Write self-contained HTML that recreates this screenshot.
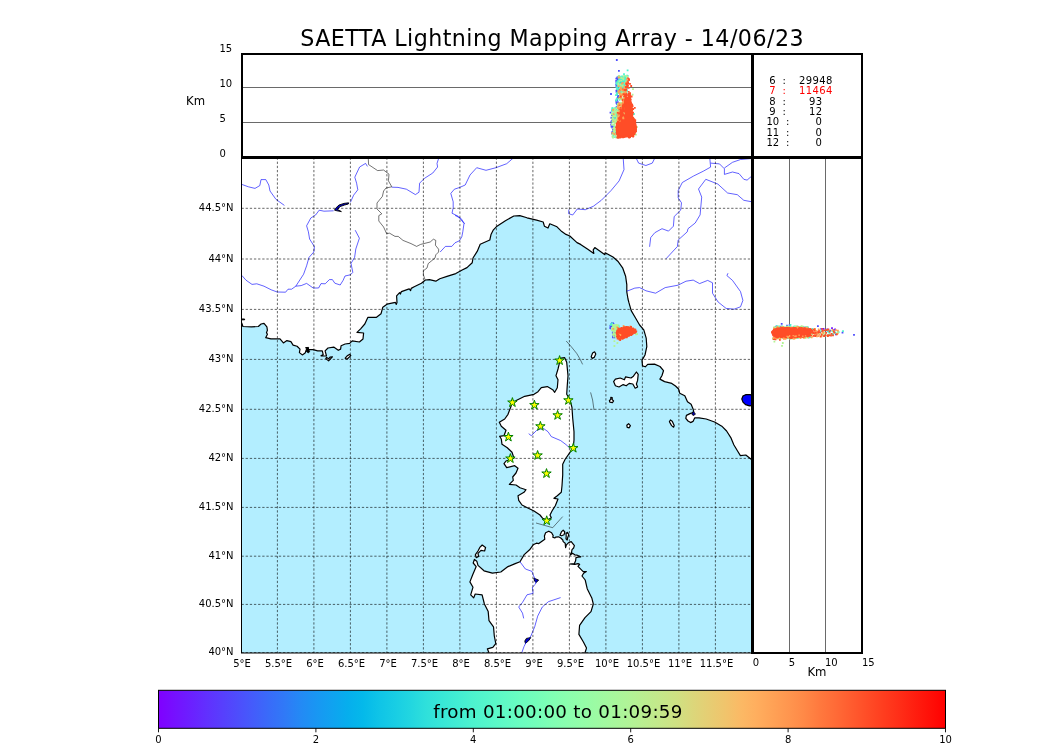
<!DOCTYPE html>
<html lang="en"><head><meta charset="utf-8"><title>SAETTA Lightning Mapping Array - 14/06/23</title><style>html,body{margin:0;padding:0;background:#fff}svg{display:block;will-change:transform}</style></head><body>
<svg width="1050" height="750" viewBox="0 0 1050 750">
<defs>
<clipPath id="mapclip"><rect x="241.5" y="157.5" width="511.0" height="495.5"/></clipPath>
<clipPath id="topclip"><rect x="243" y="55" width="508" height="101"/></clipPath>
<clipPath id="rightclip"><rect x="754" y="159" width="107" height="493"/></clipPath>
<linearGradient id="rainbow" x1="0" y1="0" x2="1" y2="0"><stop offset="0.0000" stop-color="#8000ff"/><stop offset="0.0200" stop-color="#7610ff"/><stop offset="0.0400" stop-color="#6c1fff"/><stop offset="0.0600" stop-color="#622ffe"/><stop offset="0.0800" stop-color="#583efd"/><stop offset="0.1000" stop-color="#4e4dfc"/><stop offset="0.1200" stop-color="#445cfb"/><stop offset="0.1400" stop-color="#396bf9"/><stop offset="0.1600" stop-color="#3079f7"/><stop offset="0.1800" stop-color="#2489f5"/><stop offset="0.2000" stop-color="#1996f3"/><stop offset="0.2200" stop-color="#10a2f0"/><stop offset="0.2400" stop-color="#06aeed"/><stop offset="0.2600" stop-color="#04b9ea"/><stop offset="0.2800" stop-color="#0fc4e7"/><stop offset="0.3000" stop-color="#18cde4"/><stop offset="0.3200" stop-color="#22d6e0"/><stop offset="0.3400" stop-color="#2fe0db"/><stop offset="0.3600" stop-color="#38e7d7"/><stop offset="0.3800" stop-color="#42edd3"/><stop offset="0.4000" stop-color="#4df3ce"/><stop offset="0.4200" stop-color="#56f7ca"/><stop offset="0.4400" stop-color="#60fac5"/><stop offset="0.4600" stop-color="#6afdc0"/><stop offset="0.4800" stop-color="#74feba"/><stop offset="0.5000" stop-color="#80ffb4"/><stop offset="0.5200" stop-color="#8bfeae"/><stop offset="0.5400" stop-color="#94fda8"/><stop offset="0.5600" stop-color="#9efaa2"/><stop offset="0.5800" stop-color="#a8f79c"/><stop offset="0.6000" stop-color="#b2f396"/><stop offset="0.6200" stop-color="#bced8f"/><stop offset="0.6400" stop-color="#c6e789"/><stop offset="0.6600" stop-color="#d0e082"/><stop offset="0.6800" stop-color="#dcd67a"/><stop offset="0.7000" stop-color="#e6cd73"/><stop offset="0.7200" stop-color="#f0c46c"/><stop offset="0.7400" stop-color="#fbb965"/><stop offset="0.7600" stop-color="#ffae5e"/><stop offset="0.7800" stop-color="#ffa256"/><stop offset="0.8000" stop-color="#ff964f"/><stop offset="0.8200" stop-color="#ff8947"/><stop offset="0.8400" stop-color="#ff793e"/><stop offset="0.8600" stop-color="#ff6b37"/><stop offset="0.8800" stop-color="#ff5c2f"/><stop offset="0.9000" stop-color="#ff4d27"/><stop offset="0.9200" stop-color="#ff3e1f"/><stop offset="0.9400" stop-color="#ff2f18"/><stop offset="0.9600" stop-color="#ff1f10"/><stop offset="0.9800" stop-color="#ff1008"/><stop offset="1.0000" stop-color="#ff0000"/></linearGradient>
</defs>
<rect x="0" y="0" width="1050" height="750" fill="#ffffff"/>
<g clip-path="url(#mapclip)">
<rect x="241.5" y="157.5" width="511.0" height="495.5" fill="#b3eeff"/>
<path d="M236.0 322.9 L241.7 322.9 L242.9 326.5 L251.4 326.9 L258.3 326.5 L261.1 324.0 L264.0 323.4 L266.9 326.9 L267.4 330.3 L266.5 332.6 L267.4 334.3 L265.7 337.7 L270.9 338.9 L280.0 338.9 L283.4 342.9 L286.9 340.6 L290.9 341.7 L293.1 345.1 L297.1 346.3 L300.0 349.1 L299.4 352.6 L302.3 354.9 L305.1 353.1 L306.3 349.7 L313.1 349.7 L317.7 350.9 L322.3 350.9 L323.2 354.6 L321.0 355.8 L326.5 356.0 L325.1 350.9 L328.0 348.0 L333.7 347.1 L338.3 350.3 L340.6 349.1 L341.1 345.7 L345.1 344.0 L349.7 343.4 L352.2 340.8 L359.4 342.0 L363.0 339.0 L363.6 333.0 L357.0 332.4 L360.6 328.8 L364.8 324.0 L367.8 317.4 L376.2 317.4 L381.0 313.8 L382.8 307.2 L387.0 304.2 L395.4 302.4 L396.3 304.4 L397.0 302.6 L396.6 295.8 L399.6 292.6 L400.4 294.0 L401.4 291.6 L409.2 288.9 L410.6 290.6 L411.2 288.4 L414.2 286.8 L421.4 283.2 L425.4 280.0 L429.4 279.6 L435.8 281.2 L439.8 278.8 L447.0 276.4 L455.8 273.6 L462.2 270.0 L467.0 267.6 L472.2 262.8 L473.0 258.0 L477.2 251.4 L480.2 244.2 L489.8 240.0 L491.0 234.6 L493.4 229.8 L497.0 226.2 L505.4 220.8 L513.8 216.0 L519.8 215.6 L527.0 217.8 L536.6 220.2 L543.2 222.0 L544.4 226.2 L548.0 228.0 L549.8 223.8 L557.0 226.8 L561.8 231.6 L566.0 234.4 L569.8 236.0 L577.0 242.6 L580.6 244.4 L587.8 249.2 L593.8 253.4 L593.2 249.8 L594.8 247.6 L604.6 254.6 L605.2 252.8 L613.0 257.0 L617.8 261.2 L622.6 267.8 L625.6 276.2 L626.8 284.6 L626.8 291.8 L628.0 299.0 L628.8 302.2 L631.2 310.6 L635.4 317.8 L639.6 325.0 L643.8 329.8 L646.2 338.2 L646.8 346.6 L645.0 355.0 L642.0 360.4 L642.5 365.9 L645.3 366.8 L647.7 364.4 L654.5 364.1 L660.0 366.5 L663.5 370.7 L662.0 375.5 L659.9 379.1 L664.6 381.6 L671.8 383.4 L675.5 386.0 L678.6 389.0 L679.7 393.2 L684.8 395.8 L687.5 401.8 L691.1 404.2 L693.2 409.3 L693.8 412.2 L690.0 413.6 L686.4 415.4 L685.8 418.4 L688.0 421.0 L690.6 422.6 L693.0 421.4 L694.8 417.8 L699.0 417.8 L706.2 419.0 L714.6 422.0 L721.8 426.2 L726.6 431.0 L730.8 437.6 L733.8 444.8 L737.4 450.8 L740.4 455.6 L745.8 455.0 L751.2 459.2 L760.0 466.0 L760.0 150.0 L236.0 150.0Z" fill="#ffffff" stroke="#000000" stroke-width="1.2" stroke-linejoin="round"/>
<path d="M559.3 358.3 L564.7 357.7 L566.7 362.3 L568.0 375.7 L567.3 385.0 L566.7 394.3 L570.0 399.7 L572.0 407.7 L572.7 418.3 L574.0 431.7 L574.0 440.0 L573.3 447.0 L570.0 452.3 L565.3 459.0 L562.7 464.3 L562.7 475.0 L562.0 485.7 L561.3 492.3 L557.3 495.7 L554.0 498.3 L558.0 499.0 L555.3 505.7 L552.0 511.0 L550.0 515.0 L551.3 517.7 L547.3 520.3 L542.7 518.3 L540.0 515.0 L534.0 511.0 L527.3 507.7 L522.0 505.0 L518.7 500.3 L518.0 495.7 L524.0 492.3 L526.0 489.7 L520.0 487.7 L516.0 485.0 L509.3 484.3 L513.3 480.3 L512.7 477.0 L516.0 473.0 L518.0 468.3 L514.7 465.7 L506.7 467.7 L504.0 463.7 L506.0 461.0 L514.0 458.3 L512.0 452.3 L507.3 447.7 L502.0 444.3 L501.3 439.0 L499.6 436.3 L504.0 435.7 L506.0 430.3 L501.3 426.3 L499.3 422.3 L504.7 419.0 L508.0 414.3 L510.0 409.0 L512.0 403.7 L516.7 400.3 L524.7 396.3 L534.0 394.3 L538.0 391.7 L541.3 387.7 L547.3 386.6 L552.7 389.7 L554.7 392.3 L557.3 387.7 L558.0 379.7 L556.0 375.7 L558.0 369.0 L559.3 363.7Z" fill="#ffffff" stroke="#000000" stroke-width="1.2" stroke-linejoin="round"/>
<path d="M489.0 660.0 L489.0 652.7 L487.4 648.9 L492.8 647.4 L495.8 643.6 L494.3 636.0 L493.5 626.8 L489.0 620.7 L488.2 611.6 L484.4 604.0 L482.1 594.8 L475.2 594.0 L473.7 597.9 L470.7 594.8 L473.0 587.2 L469.9 581.9 L472.6 575.0 L476.2 566.6 L473.2 563.0 L474.4 559.4 L476.8 561.2 L478.0 565.4 L484.0 570.8 L492.4 573.2 L500.8 572.0 L508.0 566.6 L515.2 563.6 L520.0 561.8 L524.2 554.6 L529.6 549.8 L533.2 544.8 L536.4 543.2 L538.8 543.6 L542.0 541.2 L544.8 539.2 L544.4 536.0 L545.6 532.8 L548.8 531.2 L551.6 532.8 L553.2 535.6 L552.8 537.2 L554.8 538.0 L555.6 537.2 L558.4 536.8 L560.8 538.0 L562.8 540.0 L563.2 541.6 L565.2 543.2 L565.6 547.6 L566.4 544.8 L568.4 542.8 L571.2 541.6 L572.8 543.6 L574.4 545.6 L573.6 548.0 L572.0 549.6 L571.6 552.0 L570.0 555.2 L572.4 553.2 L574.8 554.8 L577.2 555.2 L580.8 556.8 L578.0 557.2 L576.0 557.6 L575.6 560.8 L574.4 563.6 L569.6 564.0 L574.8 564.4 L578.0 563.6 L579.6 564.4 L578.0 566.4 L581.2 569.6 L583.2 571.6 L586.4 571.6 L583.6 573.2 L582.0 576.0 L585.2 580.0 L587.2 588.7 L591.8 597.9 L593.3 604.0 L591.0 611.6 L585.0 617.7 L579.6 625.3 L578.9 634.4 L583.4 642.0 L586.5 648.1 L585.0 652.7 L585.0 660.0Z" fill="#ffffff" stroke="#000000" stroke-width="1.2" stroke-linejoin="round"/>
<path d="M613.6 381.6 L615.4 379.2 L620.2 378.0 L624.4 379.8 L625.6 376.8 L631.0 378.0 L633.4 376.2 L636.4 372.0 L638.2 374.4 L637.6 380.4 L636.4 384.0 L637.6 387.0 L635.2 388.2 L632.8 384.0 L629.2 383.4 L626.2 385.8 L623.2 384.6 L619.0 387.0 L615.4 385.8Z" fill="#ffffff" stroke="#000000" stroke-width="1.2" stroke-linejoin="round"/>
<path d="M594.6 351.8 L595.8 354.0 L594.2 357.4 L592.2 358.4 L591.2 356.6 L592.6 353.0Z" fill="#ffffff" stroke="#000000" stroke-width="1.2" stroke-linejoin="round"/>
<path d="M610.8 397.4 L612.2 397.6 L612.2 399.6 L613.6 401.0 L612.4 402.6 L609.8 402.2 L609.4 400.6 L610.8 399.6Z" fill="#ffffff" stroke="#000000" stroke-width="1.2" stroke-linejoin="round"/>
<path d="M628.6 423.6 L630.4 425.6 L629.2 427.8 L627.2 427.4 L626.8 425.2Z" fill="#ffffff" stroke="#000000" stroke-width="1.2" stroke-linejoin="round"/>
<path d="M670.4 420.0 L672.2 421.2 L674.2 425.6 L673.6 427.2 L671.6 425.6 L669.4 421.8Z" fill="#ffffff" stroke="#000000" stroke-width="1.2" stroke-linejoin="round"/>
<path d="M482.2 545.0 L485.6 547.4 L484.6 551.0 L481.0 550.4 L478.0 553.4 L478.6 556.4 L476.2 557.6 L475.4 554.6 L478.0 551.0 L479.8 547.4Z" fill="#ffffff" stroke="#000000" stroke-width="1.2" stroke-linejoin="round"/>
<path d="M560.0 535.2 L561.6 531.6 L563.2 530.2 L564.8 532.0 L564.0 534.8 L561.6 535.8Z" fill="#ffffff" stroke="#000000" stroke-width="1.2" stroke-linejoin="round"/>
<path d="M566.0 533.2 L567.6 532.4 L568.8 534.8 L567.8 537.2 L567.2 540.0 L566.0 538.8 L566.2 536.0Z" fill="#ffffff" stroke="#000000" stroke-width="1.2" stroke-linejoin="round"/>
<path d="M325.8 358.6 L328.6 360.9 L331.2 358.2 L332.4 356.8 L330.0 357.2 L328.6 358.8 L326.6 357.4Z" fill="#ffffff" stroke="#000000" stroke-width="1.2" stroke-linejoin="round"/>
<path d="M345.2 358.2 L347.0 359.2 L350.8 355.6 L349.8 354.4 L347.2 355.8Z" fill="#ffffff" stroke="#000000" stroke-width="1.2" stroke-linejoin="round"/>
<path d="M305.6 347.6 L308.6 347.4 L308.4 349.4 L309.6 351.4 L308.6 352.8 L306.4 351.6 L307.0 349.6Z" fill="#000000" stroke="#000000" stroke-width="1"/>
<path d="M241.7 319.0 L244.6 319.0 L244.6 319.8 L241.7 319.8Z" fill="#000000" stroke="#000000" stroke-width="1"/>
<path d="M741.8 399.0 L743.0 396.0 L746.0 394.6 L750.0 394.6 L753.0 395.4 L753.0 405.4 L749.4 405.9 L745.6 404.6 L743.0 402.2Z" fill="#0000ff" stroke="#000000" stroke-width="1.2"/>
<path d="M692.2 413.2 L693.2 411.4 L695.4 414.0 L694.0 415.4 L692.2 414.8Z" fill="#0000c0" stroke="#000000" stroke-width="0.9"/>
<path d="M348.6 202.8 L344.0 203.4 L339.0 205.0 L335.4 208.4 L334.6 210.2 L337.0 210.8 L341.4 211.6 L337.6 209.6 L340.0 206.6 L344.6 205.0 L348.4 204.0Z" fill="#0000c0" stroke="#000000" stroke-width="0.9"/>
<path d="M533.8 578.2 L538.6 580.0 L536.4 582.4 L534.6 581.2Z" fill="#0000c0" stroke="#000000" stroke-width="0.9"/>
<path d="M530.8 637.6 L528.6 640.8 L525.4 643.4 L524.8 641.0 L526.4 638.4Z" fill="#0000c0" stroke="#000000" stroke-width="0.9"/>
<path d="M368.2 157.0 L368.6 164.6 L377.6 170.6 L383.6 170.0 L389.0 174.2 L388.4 180.8 L391.8 186.8 L386.0 188.0 L383.6 191.0 L382.4 196.4 L377.0 203.0 L377.0 209.0 L381.8 213.8 L378.8 215.6 L378.8 221.0 L383.6 227.0 L386.6 233.6 L389.6 233.2 L395.0 236.4 L398.2 236.4 L403.0 240.4 L411.0 243.6 L416.6 246.4 L420.6 244.4 L430.2 242.0 L433.4 239.2 L435.8 240.4 L435.4 245.2 L438.6 249.2 L438.6 252.0 L435.8 254.8 L435.0 258.0 L428.2 263.6 L427.0 268.0 L423.4 270.8 L423.4 274.8 L425.0 279.6" fill="none" stroke="#000000" stroke-width="0.55"/>
<path d="M566.2 341.0 L571.0 346.4 L576.7 353.4 L580.0 359.0 L582.6 364.4" fill="none" stroke="#000000" stroke-width="0.5"/>
<path d="M590.6 392.4 L592.6 400.0 L594.0 410.0" fill="none" stroke="#000000" stroke-width="0.5"/>
<path d="M536.0 523.0 L552.7 527.7 L562.7 516.6" fill="none" stroke="#000000" stroke-width="0.5"/>
<path d="M241.8 184.4 L248.4 186.8 L255.0 188.4 L259.8 185.6 L261.0 179.6 L265.8 179.6 L268.8 185.0 L270.0 191.0 L276.0 199.4 L284.4 205.4" fill="none" stroke="#0000ff" stroke-width="0.62" stroke-linejoin="round"/>
<path d="M367.4 166.4 L365.6 163.4 L359.6 167.0 L354.8 177.2 L356.6 183.2 L357.8 189.8 L353.6 195.2 L350.4 202.4" fill="none" stroke="#0000ff" stroke-width="0.62" stroke-linejoin="round"/>
<path d="M333.6 210.8 L324.0 211.2 L319.2 210.2 L315.6 215.0 L310.8 218.0 L306.6 225.8 L308.4 231.8 L309.6 239.0 L314.4 246.6 L313.8 252.0 L309.0 257.4 L306.6 265.8 L303.6 274.2 L295.8 286.2 L291.6 289.2 L288.0 289.2 L285.6 292.2 L277.2 292.0 L271.2 289.8 L264.0 286.2 L256.8 283.8 L252.0 284.4 L246.0 280.2 L241.8 275.4" fill="none" stroke="#0000ff" stroke-width="0.62" stroke-linejoin="round"/>
<path d="M295.8 286.2 L301.2 285.6 L306.6 283.4 L313.2 288.0 L318.6 288.0 L321.0 283.6 L325.2 283.8 L329.4 279.6 L332.4 279.6 L334.8 283.2 L340.2 285.0 L343.2 280.2 L345.0 276.0 L350.4 274.8 L352.8 272.4 L351.0 263.4 L354.6 257.4 L355.8 249.0 L359.4 238.2 L355.2 230.2" fill="none" stroke="#0000ff" stroke-width="0.62" stroke-linejoin="round"/>
<path d="M391.8 187.2 L398.0 187.4 L406.4 189.2 L415.4 194.6 L419.0 192.2 L419.6 183.2 L424.4 178.4 L432.8 173.0 L437.6 167.0 L437.0 163.4 L438.8 158.0" fill="none" stroke="#0000ff" stroke-width="0.62" stroke-linejoin="round"/>
<path d="M513.3 158.0 L506.7 163.7 L496.0 167.7 L486.0 170.3 L476.7 167.7 L470.0 175.0 L465.2 185.0 L459.8 187.4 L454.4 189.2 L450.8 193.4 L453.2 201.8 L453.2 207.8 L452.0 213.2 L458.0 216.2 L464.0 223.4 L462.8 231.8 L461.8 236.8 L459.4 240.8 L455.0 242.8 L451.8 246.4 L445.4 246.4 L440.2 252.0" fill="none" stroke="#0000ff" stroke-width="0.62" stroke-linejoin="round"/>
<path d="M455.0 215.4 L461.0 218.4 L464.6 223.8" fill="none" stroke="#0000ff" stroke-width="0.62" stroke-linejoin="round"/>
<path d="M568.8 209.6 L568.7 213.7 L572.7 215.0 L577.3 209.0 L585.3 209.7 L593.3 206.3 L601.3 200.3 L611.0 190.6 L619.1 180.9 L624.0 169.6 L623.2 158.0" fill="none" stroke="#0000ff" stroke-width="0.62" stroke-linejoin="round"/>
<path d="M636.1 158.0 L638.6 163.1 L645.9 165.5 L652.3 163.1 L654.8 158.0" fill="none" stroke="#0000ff" stroke-width="0.62" stroke-linejoin="round"/>
<path d="M649.6 246.8 L650.7 237.6 L654.8 232.7 L662.0 228.7 L668.5 231.1 L673.4 226.2 L674.2 216.5 L680.7 210.1 L681.5 202.8 L678.2 197.9 L678.2 190.6 L682.3 182.5 L693.6 176.0 L703.3 171.2 L710.6 167.1 L709.8 158.0" fill="none" stroke="#0000ff" stroke-width="0.62" stroke-linejoin="round"/>
<path d="M666.0 258.8 L677.4 246.5 L678.2 240.0 L687.2 231.9 L688.0 228.7 L695.2 223.0 L700.1 214.9 L701.7 197.1 L698.5 189.0 L705.8 179.3 L717.9 184.1 L727.6 193.0 L737.3 194.7 L743.8 200.3 L753.0 202.0" fill="none" stroke="#0000ff" stroke-width="0.62" stroke-linejoin="round"/>
<path d="M710.6 163.1 L719.5 163.9 L724.4 168.8 L724.4 174.4 L732.5 172.0 L739.0 173.6 L743.8 179.3 L747.1 180.1 L753.0 175.0" fill="none" stroke="#0000ff" stroke-width="0.62" stroke-linejoin="round"/>
<path d="M724.4 168.0 L732.5 162.3 L740.6 159.5 L753.0 158.4" fill="none" stroke="#0000ff" stroke-width="0.62" stroke-linejoin="round"/>
<path d="M626.8 291.2 L630.0 290.0 L634.8 288.1 L639.6 287.6 L646.0 290.8 L655.6 293.2 L665.2 287.6 L678.0 285.2 L686.0 281.2 L693.2 280.1 L699.6 283.6 L707.7 280.4 L712.5 282.8 L712.5 293.2 L718.1 302.0 L726.1 308.4 L734.1 309.2 L740.5 306.8 L742.9 300.4 L740.5 291.6 L732.5 280.4 L726.9 275.6 L728.0 273.2" fill="none" stroke="#0000ff" stroke-width="0.62" stroke-linejoin="round"/>
<path d="M528.7 433.7 L531.3 435.7 L536.7 430.3 L543.3 428.3 L548.0 431.7 L551.3 436.6 L560.7 440.6 L566.0 444.6 L570.0 448.3" fill="none" stroke="#0000ff" stroke-width="0.62" stroke-linejoin="round"/>
<path d="M520.0 561.8 L525.4 569.0 L532.0 571.4 L533.2 575.0 L535.8 580.4 L535.6 584.0 L532.4 587.2 L533.1 593.3 L527.0 594.8 L522.5 602.4 L518.7 607.0 L522.5 613.1 L523.7 618.4" fill="none" stroke="#0000ff" stroke-width="0.62" stroke-linejoin="round"/>
<path d="M560.6 597.6 L548.4 601.7 L542.3 607.0 L537.7 616.1 L534.7 626.8 L530.9 636.0 L527.0 640.5 L524.0 646.6 L521.7 653.0" fill="none" stroke="#0000ff" stroke-width="0.62" stroke-linejoin="round"/>
<path d="M277.4 157.5 V653.0 M313.9 157.5 V653.0 M350.4 157.5 V653.0 M386.9 157.5 V653.0 M423.4 157.5 V653.0 M459.9 157.5 V653.0 M496.4 157.5 V653.0 M532.9 157.5 V653.0 M569.4 157.5 V653.0 M605.9 157.5 V653.0 M642.4 157.5 V653.0 M678.9 157.5 V653.0 M715.4 157.5 V653.0 M241.5 208.3 H752.5 M241.5 259.0 H752.5 M241.5 309.4 H752.5 M241.5 359.4 H752.5 M241.5 409.3 H752.5 M241.5 458.4 H752.5 M241.5 507.4 H752.5 M241.5 556.2 H752.5 M241.5 604.4 H752.5 M241.5 652.6 H752.5" fill="none" stroke="#000000" stroke-width="0.75" stroke-opacity="0.8" stroke-dasharray="2.3 1.85"/>
</g>
<g clip-path="url(#mapclip)">
<path d="M610.9 323.6h1.8v1.8h-1.8zM613.5 335.7h1.8v1.8h-1.8zM612.2 336.5h1.8v1.8h-1.8zM613.3 333.1h1.8v1.8h-1.8zM610.1 326.1h1.8v1.8h-1.8zM610.9 322.8h1.8v1.8h-1.8zM609.8 326.7h1.8v1.8h-1.8zM613.1 334.1h1.8v1.8h-1.8zM613.1 335.7h1.8v1.8h-1.8zM611.9 331.6h1.8v1.8h-1.8zM612.6 333.9h1.8v1.8h-1.8zM613.7 332.1h1.8v1.8h-1.8zM611.7 325.5h1.8v1.8h-1.8zM611.0 322.7h1.8v1.8h-1.8zM610.9 325.3h1.8v1.8h-1.8zM610.5 324.9h1.8v1.8h-1.8zM609.4 327.1h1.8v1.8h-1.8zM611.0 322.6h1.8v1.8h-1.8zM612.7 333.5h1.8v1.8h-1.8zM610.4 327.8h1.8v1.8h-1.8zM613.2 335.2h1.8v1.8h-1.8zM612.4 334.4h1.8v1.8h-1.8zM612.2 332.0h1.8v1.8h-1.8zM609.7 326.0h1.8v1.8h-1.8zM611.3 325.0h1.8v1.8h-1.8zM610.9 323.6h1.8v1.8h-1.8zM612.9 336.3h1.8v1.8h-1.8zM612.0 336.2h1.8v1.8h-1.8zM610.5 323.3h1.8v1.8h-1.8zM613.7 332.1h1.8v1.8h-1.8zM610.8 326.2h1.8v1.8h-1.8zM612.9 334.7h1.8v1.8h-1.8zM613.5 335.1h1.8v1.8h-1.8zM612.6 334.7h1.8v1.8h-1.8zM612.0 322.3h1.8v1.8h-1.8zM610.0 324.2h1.8v1.8h-1.8zM612.1 323.8h1.8v1.8h-1.8zM609.8 325.7h1.8v1.8h-1.8zM609.5 324.9h1.8v1.8h-1.8zM613.8 335.5h1.8v1.8h-1.8zM611.6 325.2h1.8v1.8h-1.8zM613.5 335.2h1.8v1.8h-1.8zM612.8 333.3h1.8v1.8h-1.8zM611.6 324.0h1.8v1.8h-1.8zM612.7 333.4h1.8v1.8h-1.8zM612.5 322.9h1.8v1.8h-1.8zM611.4 323.3h1.8v1.8h-1.8zM613.6 336.5h1.8v1.8h-1.8zM612.4 335.8h1.8v1.8h-1.8zM610.2 324.7h1.8v1.8h-1.8zM611.2 324.3h1.8v1.8h-1.8zM613.0 333.3h1.8v1.8h-1.8zM612.8 334.4h1.8v1.8h-1.8zM610.5 327.7h1.8v1.8h-1.8zM611.3 322.3h1.8v1.8h-1.8zM610.2 325.7h1.8v1.8h-1.8z" fill="#4e4dfc"/>
<path d="M613.7 329.6h1.8v1.8h-1.8zM617.7 324.7h1.8v1.8h-1.8zM611.4 328.9h1.8v1.8h-1.8zM616.0 329.9h1.8v1.8h-1.8zM615.4 334.6h1.8v1.8h-1.8zM615.5 326.9h1.8v1.8h-1.8zM614.7 332.2h1.8v1.8h-1.8zM614.9 328.7h1.8v1.8h-1.8zM615.2 328.4h1.8v1.8h-1.8zM617.4 334.4h1.8v1.8h-1.8zM614.7 332.2h1.8v1.8h-1.8zM615.0 325.1h1.8v1.8h-1.8zM617.0 324.9h1.8v1.8h-1.8zM615.9 332.4h1.8v1.8h-1.8zM611.2 322.4h1.8v1.8h-1.8zM610.3 323.4h1.8v1.8h-1.8zM609.8 324.0h1.8v1.8h-1.8zM615.1 331.8h1.8v1.8h-1.8z" fill="#4df3ce"/>
<path d="M616.2 333.9h1.8v1.8h-1.8zM613.8 325.0h1.8v1.8h-1.8zM616.1 327.6h1.8v1.8h-1.8zM612.3 329.2h1.8v1.8h-1.8zM612.7 329.6h1.8v1.8h-1.8zM611.5 327.4h1.8v1.8h-1.8zM611.3 327.3h1.8v1.8h-1.8zM615.2 336.5h1.8v1.8h-1.8z" fill="#b2f396"/>
<path d="M613.4 326.6h1.8v1.8h-1.8zM611.0 324.0h1.8v1.8h-1.8zM614.1 329.4h1.8v1.8h-1.8zM617.9 326.3h1.8v1.8h-1.8zM616.1 329.3h1.8v1.8h-1.8zM616.2 331.4h1.8v1.8h-1.8zM615.0 327.2h1.8v1.8h-1.8zM615.0 328.0h1.8v1.8h-1.8zM611.2 327.4h1.8v1.8h-1.8zM614.9 333.5h1.8v1.8h-1.8z" fill="#4df3ce"/>
<path d="M611.3 327.6h1.8v1.8h-1.8zM617.0 327.8h1.8v1.8h-1.8zM612.8 328.0h1.8v1.8h-1.8zM616.9 333.4h1.8v1.8h-1.8zM617.9 329.5h1.8v1.8h-1.8zM616.3 332.3h1.8v1.8h-1.8zM617.1 334.1h1.8v1.8h-1.8zM613.9 325.7h1.8v1.8h-1.8zM612.6 325.9h1.8v1.8h-1.8zM617.2 333.4h1.8v1.8h-1.8zM614.9 325.7h1.8v1.8h-1.8zM611.9 328.6h1.8v1.8h-1.8zM614.9 334.8h1.8v1.8h-1.8zM616.2 332.5h1.8v1.8h-1.8zM616.5 329.6h1.8v1.8h-1.8zM616.9 327.3h1.8v1.8h-1.8zM617.1 334.9h1.8v1.8h-1.8zM611.6 327.2h1.8v1.8h-1.8zM611.9 327.9h1.8v1.8h-1.8zM618.8 337.2h1.8v1.8h-1.8zM611.3 328.8h1.8v1.8h-1.8zM612.7 324.9h1.8v1.8h-1.8zM616.2 333.1h1.8v1.8h-1.8zM615.4 332.7h1.8v1.8h-1.8zM612.6 324.1h1.8v1.8h-1.8zM614.7 325.3h1.8v1.8h-1.8zM611.2 327.2h1.8v1.8h-1.8zM611.9 326.8h1.8v1.8h-1.8zM617.6 329.0h1.8v1.8h-1.8zM614.7 332.7h1.8v1.8h-1.8zM612.8 324.9h1.8v1.8h-1.8zM617.8 334.0h1.8v1.8h-1.8zM611.2 329.3h1.8v1.8h-1.8zM612.3 326.2h1.8v1.8h-1.8zM616.9 324.4h1.8v1.8h-1.8zM611.9 329.1h1.8v1.8h-1.8zM617.6 329.3h1.8v1.8h-1.8zM615.9 334.2h1.8v1.8h-1.8zM614.9 334.4h1.8v1.8h-1.8zM617.5 335.0h1.8v1.8h-1.8zM616.8 328.6h1.8v1.8h-1.8zM615.2 326.4h1.8v1.8h-1.8zM615.9 331.5h1.8v1.8h-1.8zM615.1 333.9h1.8v1.8h-1.8zM616.8 336.1h1.8v1.8h-1.8zM617.5 333.9h1.8v1.8h-1.8zM613.6 329.7h1.8v1.8h-1.8zM611.9 329.8h1.8v1.8h-1.8zM614.7 334.5h1.8v1.8h-1.8zM612.1 326.1h1.8v1.8h-1.8zM612.0 333.7h1.8v1.8h-1.8zM612.0 326.7h1.8v1.8h-1.8zM615.0 328.2h1.8v1.8h-1.8zM617.0 335.0h1.8v1.8h-1.8zM612.7 331.9h1.8v1.8h-1.8zM615.2 324.1h1.8v1.8h-1.8zM613.5 340.3h1.8v1.8h-1.8zM616.5 342.1h1.8v1.8h-1.8zM613.5 345.1h1.8v1.8h-1.8zM635.1 333.5h1.8v1.8h-1.8zM636.1 333.1h1.8v1.8h-1.8zM617.3 328.8h1.8v1.8h-1.8zM617.6 328.5h1.8v1.8h-1.8zM617.0 326.0h1.8v1.8h-1.8zM616.6 332.8h1.8v1.8h-1.8zM613.1 333.3h1.8v1.8h-1.8zM615.8 327.6h1.8v1.8h-1.8zM612.9 335.6h1.8v1.8h-1.8z" fill="#b2f396"/>
<path d="M619.1 334.2h1.8v1.8h-1.8zM618.6 333.1h1.8v1.8h-1.8zM617.0 337.2h1.8v1.8h-1.8z" fill="#ffa256"/>
<path d="M615.7 324.9h1.8v1.8h-1.8zM619.3 335.3h1.8v1.8h-1.8zM613.9 330.4h1.8v1.8h-1.8zM614.2 325.9h1.8v1.8h-1.8zM616.1 328.1h1.8v1.8h-1.8zM616.3 324.5h1.8v1.8h-1.8zM616.3 329.2h1.8v1.8h-1.8zM617.0 334.1h1.8v1.8h-1.8zM611.6 328.1h1.8v1.8h-1.8zM613.9 327.7h1.8v1.8h-1.8zM612.2 328.7h1.8v1.8h-1.8zM615.0 324.6h1.8v1.8h-1.8zM616.4 336.1h1.8v1.8h-1.8zM614.5 333.6h1.8v1.8h-1.8zM614.9 327.2h1.8v1.8h-1.8zM614.3 327.0h1.8v1.8h-1.8zM615.9 327.9h1.8v1.8h-1.8zM616.0 327.6h1.8v1.8h-1.8zM614.0 326.0h1.8v1.8h-1.8zM612.5 329.3h1.8v1.8h-1.8zM611.5 327.2h1.8v1.8h-1.8zM616.7 334.3h1.8v1.8h-1.8zM616.0 331.8h1.8v1.8h-1.8zM614.4 330.2h1.8v1.8h-1.8zM616.5 327.5h1.8v1.8h-1.8zM617.8 332.0h1.8v1.8h-1.8zM611.5 328.4h1.8v1.8h-1.8zM614.9 330.2h1.8v1.8h-1.8zM617.1 332.5h1.8v1.8h-1.8zM616.8 327.2h1.8v1.8h-1.8zM616.4 334.5h1.8v1.8h-1.8zM615.0 329.4h1.8v1.8h-1.8zM614.4 329.8h1.8v1.8h-1.8zM614.7 332.7h1.8v1.8h-1.8zM617.7 330.2h1.8v1.8h-1.8zM612.5 324.5h1.8v1.8h-1.8zM616.7 334.7h1.8v1.8h-1.8zM617.1 326.6h1.8v1.8h-1.8zM614.8 325.7h1.8v1.8h-1.8zM615.9 330.4h1.8v1.8h-1.8zM616.3 328.8h1.8v1.8h-1.8zM618.7 335.7h1.8v1.8h-1.8zM613.2 325.1h1.8v1.8h-1.8zM612.3 324.3h1.8v1.8h-1.8zM615.2 335.7h1.8v1.8h-1.8zM613.3 324.6h1.8v1.8h-1.8zM615.8 325.6h1.8v1.8h-1.8zM616.6 329.6h1.8v1.8h-1.8zM614.0 326.0h1.8v1.8h-1.8zM617.2 335.3h1.8v1.8h-1.8z" fill="#b2f396"/>
<path d="M616.3 326.5h1.8v1.8h-1.8zM612.4 327.9h1.8v1.8h-1.8zM618.4 332.0h1.8v1.8h-1.8zM616.2 333.3h1.8v1.8h-1.8zM618.9 337.1h1.8v1.8h-1.8zM617.9 332.4h1.8v1.8h-1.8zM622.7 325.1h1.8v1.8h-1.8zM629.5 325.5h1.8v1.8h-1.8zM616.8 333.6h1.8v1.8h-1.8zM617.1 334.5h1.8v1.8h-1.8zM618.3 335.3h1.8v1.8h-1.8zM617.7 335.5h1.8v1.8h-1.8zM617.7 335.7h1.8v1.8h-1.8zM616.6 333.7h1.8v1.8h-1.8zM618.6 334.3h1.8v1.8h-1.8zM619.0 336.1h1.8v1.8h-1.8z" fill="#ffa256"/>
<path d="M630.6 333.4h1.8v1.8h-1.8zM619.5 328.2h1.8v1.8h-1.8zM634.8 331.2h1.8v1.8h-1.8zM617.3 335.6h1.8v1.8h-1.8zM616.7 337.8h1.8v1.8h-1.8zM626.7 326.4h1.8v1.8h-1.8zM630.1 326.1h1.8v1.8h-1.8zM629.4 327.5h1.8v1.8h-1.8zM625.7 336.4h1.8v1.8h-1.8zM626.1 335.9h1.8v1.8h-1.8zM617.8 336.3h1.8v1.8h-1.8zM631.2 332.8h1.8v1.8h-1.8zM627.4 326.8h1.8v1.8h-1.8zM622.8 335.9h1.8v1.8h-1.8zM627.7 326.2h1.8v1.8h-1.8zM633.7 331.9h1.8v1.8h-1.8z" fill="#ff4d27"/>
<path d="M616.2 331.0 L619.8 328.0 L624.6 326.8 L630.6 327.4 L636.0 329.9 L636.2 332.2 L633.0 334.2 L629.4 336.4 L624.6 337.8 L621.0 339.0 L619.8 340.6 L618.0 338.2 L616.4 334.6 Z" fill="#ff4d27"/>
<path d="M616.2 331.1h1.8v1.8h-1.8zM615.0 329.3h1.8v1.8h-1.8z" fill="#b2f396"/>
<path d="M617.5 333.3h1.8v1.8h-1.8zM617.8 337.3h1.8v1.8h-1.8zM617.0 334.4h1.8v1.8h-1.8zM619.4 334.2h1.8v1.8h-1.8zM617.2 329.0h1.8v1.8h-1.8zM619.3 333.9h1.8v1.8h-1.8z" fill="#ffa256"/>
<path d="M616.3 329.7h1.8v1.8h-1.8zM620.2 327.7h1.8v1.8h-1.8zM635.4 330.4h1.8v1.8h-1.8zM619.5 327.7h1.8v1.8h-1.8zM633.8 328.6h1.8v1.8h-1.8zM630.0 326.9h1.8v1.8h-1.8zM620.7 327.0h1.8v1.8h-1.8zM631.6 333.3h1.8v1.8h-1.8zM634.1 331.8h1.8v1.8h-1.8zM615.6 331.9h1.8v1.8h-1.8zM617.3 336.5h1.8v1.8h-1.8zM620.0 337.7h1.8v1.8h-1.8zM629.8 327.8h1.8v1.8h-1.8zM634.2 329.1h1.8v1.8h-1.8zM616.3 332.6h1.8v1.8h-1.8zM616.5 331.9h1.8v1.8h-1.8zM625.6 326.4h1.8v1.8h-1.8zM634.5 328.7h1.8v1.8h-1.8zM632.9 330.3h1.8v1.8h-1.8zM626.0 328.1h1.8v1.8h-1.8zM617.4 327.4h1.8v1.8h-1.8zM622.8 337.1h1.8v1.8h-1.8zM627.1 327.2h1.8v1.8h-1.8zM617.6 329.3h1.8v1.8h-1.8zM622.3 336.0h1.8v1.8h-1.8zM625.8 326.1h1.8v1.8h-1.8zM617.1 336.9h1.8v1.8h-1.8zM617.6 334.4h1.8v1.8h-1.8zM616.9 331.5h1.8v1.8h-1.8zM619.3 339.1h1.8v1.8h-1.8zM628.2 334.5h1.8v1.8h-1.8zM619.2 338.8h1.8v1.8h-1.8zM625.9 326.9h1.8v1.8h-1.8zM632.0 328.8h1.8v1.8h-1.8zM625.6 334.8h1.8v1.8h-1.8zM621.6 336.6h1.8v1.8h-1.8zM619.2 337.4h1.8v1.8h-1.8zM627.6 334.7h1.8v1.8h-1.8zM623.7 336.6h1.8v1.8h-1.8zM629.8 327.4h1.8v1.8h-1.8zM621.7 337.9h1.8v1.8h-1.8zM630.3 333.7h1.8v1.8h-1.8zM616.0 335.8h1.8v1.8h-1.8zM628.9 327.0h1.8v1.8h-1.8zM616.0 331.2h1.8v1.8h-1.8zM622.9 326.5h1.8v1.8h-1.8zM625.7 327.7h1.8v1.8h-1.8zM630.1 326.1h1.8v1.8h-1.8zM626.7 326.6h1.8v1.8h-1.8zM616.8 329.6h1.8v1.8h-1.8zM629.4 327.0h1.8v1.8h-1.8zM630.3 332.5h1.8v1.8h-1.8zM634.1 330.6h1.8v1.8h-1.8zM619.9 328.0h1.8v1.8h-1.8zM617.0 335.3h1.8v1.8h-1.8zM624.1 327.0h1.8v1.8h-1.8zM632.4 328.0h1.8v1.8h-1.8zM617.2 333.9h1.8v1.8h-1.8zM630.4 334.2h1.8v1.8h-1.8zM624.3 326.3h1.8v1.8h-1.8zM616.5 333.6h1.8v1.8h-1.8zM624.5 327.0h1.8v1.8h-1.8zM631.9 327.8h1.8v1.8h-1.8zM616.6 335.6h1.8v1.8h-1.8zM616.8 329.6h1.8v1.8h-1.8zM618.1 328.9h1.8v1.8h-1.8zM618.3 338.5h1.8v1.8h-1.8zM631.3 332.3h1.8v1.8h-1.8zM624.3 335.9h1.8v1.8h-1.8zM621.6 336.6h1.8v1.8h-1.8zM618.1 335.2h1.8v1.8h-1.8zM632.1 327.5h1.8v1.8h-1.8zM617.2 333.4h1.8v1.8h-1.8zM617.9 334.8h1.8v1.8h-1.8z" fill="#ff4d27"/>
</g>
<path d="M559.6 355.6 L560.7 359.0 L564.3 359.0 L561.4 361.1 L562.5 364.5 L559.6 362.4 L556.7 364.5 L557.8 361.1 L554.9 359.0 L558.5 359.0Z" fill="#ffff00" stroke="#008000" stroke-width="1.0" stroke-linejoin="miter"/>
<path d="M512.4 397.6 L513.5 401.0 L517.1 401.0 L514.2 403.1 L515.3 406.5 L512.4 404.4 L509.5 406.5 L510.6 403.1 L507.7 401.0 L511.3 401.0Z" fill="#ffff00" stroke="#008000" stroke-width="1.0" stroke-linejoin="miter"/>
<path d="M534.4 400.2 L535.5 403.6 L539.1 403.6 L536.2 405.7 L537.3 409.1 L534.4 407.0 L531.5 409.1 L532.6 405.7 L529.7 403.6 L533.3 403.6Z" fill="#ffff00" stroke="#008000" stroke-width="1.0" stroke-linejoin="miter"/>
<path d="M568.4 395.4 L569.5 398.8 L573.1 398.8 L570.2 400.9 L571.3 404.3 L568.4 402.2 L565.5 404.3 L566.6 400.9 L563.7 398.8 L567.3 398.8Z" fill="#ffff00" stroke="#008000" stroke-width="1.0" stroke-linejoin="miter"/>
<path d="M557.6 410.4 L558.7 413.8 L562.3 413.8 L559.4 415.9 L560.5 419.3 L557.6 417.2 L554.7 419.3 L555.8 415.9 L552.9 413.8 L556.5 413.8Z" fill="#ffff00" stroke="#008000" stroke-width="1.0" stroke-linejoin="miter"/>
<path d="M540.4 421.4 L541.5 424.8 L545.1 424.8 L542.2 426.9 L543.3 430.3 L540.4 428.2 L537.5 430.3 L538.6 426.9 L535.7 424.8 L539.3 424.8Z" fill="#ffff00" stroke="#008000" stroke-width="1.0" stroke-linejoin="miter"/>
<path d="M508.4 432.1 L509.5 435.5 L513.1 435.5 L510.2 437.6 L511.3 441.0 L508.4 438.9 L505.5 441.0 L506.6 437.6 L503.7 435.5 L507.3 435.5Z" fill="#ffff00" stroke="#008000" stroke-width="1.0" stroke-linejoin="miter"/>
<path d="M573.3 443.2 L574.4 446.6 L578.0 446.6 L575.1 448.7 L576.2 452.1 L573.3 450.0 L570.4 452.1 L571.5 448.7 L568.6 446.6 L572.2 446.6Z" fill="#ffff00" stroke="#008000" stroke-width="1.0" stroke-linejoin="miter"/>
<path d="M510.4 453.6 L511.5 457.0 L515.1 457.0 L512.2 459.1 L513.3 462.5 L510.4 460.4 L507.5 462.5 L508.6 459.1 L505.7 457.0 L509.3 457.0Z" fill="#ffff00" stroke="#008000" stroke-width="1.0" stroke-linejoin="miter"/>
<path d="M537.6 450.5 L538.7 453.9 L542.3 453.9 L539.4 456.0 L540.5 459.4 L537.6 457.3 L534.7 459.4 L535.8 456.0 L532.9 453.9 L536.5 453.9Z" fill="#ffff00" stroke="#008000" stroke-width="1.0" stroke-linejoin="miter"/>
<path d="M546.5 468.6 L547.6 472.0 L551.2 472.0 L548.3 474.1 L549.4 477.5 L546.5 475.4 L543.6 477.5 L544.7 474.1 L541.8 472.0 L545.4 472.0Z" fill="#ffff00" stroke="#008000" stroke-width="1.0" stroke-linejoin="miter"/>
<path d="M546.7 515.8 L547.8 519.2 L551.4 519.2 L548.5 521.3 L549.6 524.7 L546.7 522.6 L543.8 524.7 L544.9 521.3 L542.0 519.2 L545.6 519.2Z" fill="#ffff00" stroke="#008000" stroke-width="1.0" stroke-linejoin="miter"/>
<rect x="241.5" y="157.5" width="511" height="495.5" fill="none" stroke="#000" stroke-width="1"/>
<path d="M243 87.5H751 M243 122.5H751" stroke="#6a6a6a" stroke-width="1" fill="none"/>
<g clip-path="url(#topclip)">
<path d="M615.7 91.4h1.8v1.8h-1.8zM616.1 103.2h1.8v1.8h-1.8zM610.5 116.8h1.8v1.8h-1.8zM615.5 81.5h1.8v1.8h-1.8zM615.2 99.8h1.8v1.8h-1.8zM616.6 121.8h1.8v1.8h-1.8zM624.2 89.5h1.8v1.8h-1.8zM617.2 85.1h1.8v1.8h-1.8zM615.7 100.4h1.8v1.8h-1.8zM616.3 77.0h1.8v1.8h-1.8zM614.8 116.3h1.8v1.8h-1.8zM617.5 127.4h1.8v1.8h-1.8zM616.5 88.5h1.8v1.8h-1.8zM614.7 131.7h1.8v1.8h-1.8zM612.7 116.9h1.8v1.8h-1.8zM617.5 81.1h1.8v1.8h-1.8zM615.5 107.8h1.8v1.8h-1.8zM623.2 80.7h1.8v1.8h-1.8zM615.6 84.6h1.8v1.8h-1.8zM617.3 101.4h1.8v1.8h-1.8zM615.5 89.8h1.8v1.8h-1.8zM623.1 92.9h1.8v1.8h-1.8zM616.9 86.3h1.8v1.8h-1.8zM616.5 82.0h1.8v1.8h-1.8zM617.6 120.1h1.8v1.8h-1.8zM616.2 90.2h1.8v1.8h-1.8zM615.4 77.8h1.8v1.8h-1.8zM611.5 131.0h1.8v1.8h-1.8zM616.6 83.3h1.8v1.8h-1.8zM615.5 86.3h1.8v1.8h-1.8zM609.6 111.8h1.8v1.8h-1.8zM611.4 109.4h1.8v1.8h-1.8zM616.3 80.3h1.8v1.8h-1.8zM611.4 126.7h1.8v1.8h-1.8zM620.1 79.4h1.8v1.8h-1.8zM616.5 76.5h1.8v1.8h-1.8zM611.2 119.7h1.8v1.8h-1.8zM623.2 78.4h1.8v1.8h-1.8zM612.7 131.5h1.8v1.8h-1.8zM619.3 80.9h1.8v1.8h-1.8zM611.1 114.1h1.8v1.8h-1.8zM613.2 110.8h1.8v1.8h-1.8zM617.8 81.8h1.8v1.8h-1.8zM616.1 83.7h1.8v1.8h-1.8zM615.3 83.7h1.8v1.8h-1.8zM613.5 113.2h1.8v1.8h-1.8zM626.3 74.9h1.8v1.8h-1.8zM619.0 80.2h1.8v1.8h-1.8zM618.3 76.6h1.8v1.8h-1.8zM621.4 85.8h1.8v1.8h-1.8zM618.6 82.8h1.8v1.8h-1.8zM615.9 59.1h1.8v1.8h-1.8zM618.0 69.9h1.8v1.8h-1.8zM610.1 93.1h1.8v1.8h-1.8zM612.1 129.1h1.8v1.8h-1.8zM611.1 132.6h1.8v1.8h-1.8zM617.0 113.1h1.8v1.8h-1.8zM619.2 79.7h1.8v1.8h-1.8zM616.4 97.8h1.8v1.8h-1.8zM618.0 83.1h1.8v1.8h-1.8zM616.8 97.2h1.8v1.8h-1.8zM616.4 80.7h1.8v1.8h-1.8zM610.6 125.7h1.8v1.8h-1.8zM617.2 95.1h1.8v1.8h-1.8zM616.7 78.8h1.8v1.8h-1.8zM622.7 84.1h1.8v1.8h-1.8zM613.8 117.0h1.8v1.8h-1.8zM614.7 132.5h1.8v1.8h-1.8zM615.9 98.8h1.8v1.8h-1.8zM625.0 88.6h1.8v1.8h-1.8zM611.9 114.0h1.8v1.8h-1.8zM612.0 126.0h1.8v1.8h-1.8zM614.0 117.6h1.8v1.8h-1.8zM610.4 120.8h1.8v1.8h-1.8zM612.0 118.7h1.8v1.8h-1.8zM617.7 79.5h1.8v1.8h-1.8zM614.3 118.0h1.8v1.8h-1.8zM611.4 125.4h1.8v1.8h-1.8zM617.5 80.2h1.8v1.8h-1.8zM617.8 79.3h1.8v1.8h-1.8zM619.0 83.7h1.8v1.8h-1.8zM616.3 127.1h1.8v1.8h-1.8zM614.4 108.7h1.8v1.8h-1.8zM616.3 99.3h1.8v1.8h-1.8zM617.1 118.0h1.8v1.8h-1.8zM615.8 106.6h1.8v1.8h-1.8zM620.0 79.5h1.8v1.8h-1.8zM615.5 101.8h1.8v1.8h-1.8zM619.7 83.9h1.8v1.8h-1.8zM618.3 77.5h1.8v1.8h-1.8zM610.3 123.6h1.8v1.8h-1.8zM619.8 78.0h1.8v1.8h-1.8zM615.2 108.8h1.8v1.8h-1.8zM613.8 131.8h1.8v1.8h-1.8zM612.2 130.2h1.8v1.8h-1.8zM615.8 102.5h1.8v1.8h-1.8zM614.4 112.9h1.8v1.8h-1.8zM619.1 83.9h1.8v1.8h-1.8zM617.7 77.7h1.8v1.8h-1.8zM610.7 117.2h1.8v1.8h-1.8z" fill="#4e4dfc"/>
<path d="M622.4 91.7h1.8v1.8h-1.8zM623.8 82.9h1.8v1.8h-1.8zM625.1 91.9h1.8v1.8h-1.8zM625.2 80.1h1.8v1.8h-1.8zM621.8 87.1h1.8v1.8h-1.8zM624.8 78.3h1.8v1.8h-1.8zM622.1 85.9h1.8v1.8h-1.8zM617.9 75.0h1.8v1.8h-1.8z" fill="#28dbde"/>
<path d="M621.6 84.5h1.8v1.8h-1.8zM621.1 82.3h1.8v1.8h-1.8zM624.0 85.6h1.8v1.8h-1.8zM614.8 119.4h1.8v1.8h-1.8zM622.4 84.4h1.8v1.8h-1.8zM619.0 120.9h1.8v1.8h-1.8zM624.4 78.5h1.8v1.8h-1.8zM613.9 116.9h1.8v1.8h-1.8zM617.0 96.8h1.8v1.8h-1.8zM626.1 86.1h1.8v1.8h-1.8zM616.9 104.9h1.8v1.8h-1.8zM616.1 91.9h1.8v1.8h-1.8zM615.8 98.6h1.8v1.8h-1.8zM624.8 82.7h1.8v1.8h-1.8zM626.5 81.0h1.8v1.8h-1.8zM622.3 91.0h1.8v1.8h-1.8zM621.6 82.4h1.8v1.8h-1.8zM623.6 79.6h1.8v1.8h-1.8zM622.9 86.5h1.8v1.8h-1.8zM617.8 90.1h1.8v1.8h-1.8zM623.3 78.6h1.8v1.8h-1.8zM619.1 95.3h1.8v1.8h-1.8zM615.6 86.5h1.8v1.8h-1.8zM619.1 83.5h1.8v1.8h-1.8zM624.4 78.1h1.8v1.8h-1.8zM622.2 87.2h1.8v1.8h-1.8zM621.1 89.0h1.8v1.8h-1.8zM613.9 111.8h1.8v1.8h-1.8zM618.7 99.0h1.8v1.8h-1.8zM623.4 91.7h1.8v1.8h-1.8zM621.6 86.9h1.8v1.8h-1.8zM623.0 94.3h1.8v1.8h-1.8zM618.6 92.2h1.8v1.8h-1.8z" fill="#4df3ce"/>
<path d="M619.6 96.6h1.8v1.8h-1.8z" fill="#b2f396"/>
<path d="M622.1 91.9h1.8v1.8h-1.8zM614.9 107.5h1.8v1.8h-1.8zM617.0 96.3h1.8v1.8h-1.8zM615.3 79.9h1.8v1.8h-1.8zM615.7 106.6h1.8v1.8h-1.8z" fill="#4e4dfc"/>
<path d="M624.9 91.3h1.8v1.8h-1.8zM619.9 81.7h1.8v1.8h-1.8zM623.2 86.6h1.8v1.8h-1.8zM625.6 88.0h1.8v1.8h-1.8zM618.7 84.6h1.8v1.8h-1.8zM620.1 79.6h1.8v1.8h-1.8zM622.4 76.8h1.8v1.8h-1.8zM620.3 91.3h1.8v1.8h-1.8zM622.1 80.4h1.8v1.8h-1.8z" fill="#28dbde"/>
<path d="M618.8 79.5h1.8v1.8h-1.8zM621.7 80.9h1.8v1.8h-1.8zM617.7 84.3h1.8v1.8h-1.8zM613.5 133.1h1.8v1.8h-1.8zM618.9 81.9h1.8v1.8h-1.8zM616.2 93.5h1.8v1.8h-1.8zM625.6 93.3h1.8v1.8h-1.8zM611.5 107.6h1.8v1.8h-1.8zM618.3 78.8h1.8v1.8h-1.8zM624.1 92.9h1.8v1.8h-1.8zM626.7 75.0h1.8v1.8h-1.8zM625.3 78.6h1.8v1.8h-1.8zM624.0 75.3h1.8v1.8h-1.8zM618.9 94.8h1.8v1.8h-1.8zM626.2 74.8h1.8v1.8h-1.8zM623.5 84.3h1.8v1.8h-1.8zM620.1 91.7h1.8v1.8h-1.8zM612.8 134.0h1.8v1.8h-1.8zM618.7 91.6h1.8v1.8h-1.8zM620.3 94.8h1.8v1.8h-1.8zM622.5 82.8h1.8v1.8h-1.8zM623.1 92.1h1.8v1.8h-1.8zM625.5 85.0h1.8v1.8h-1.8zM619.9 78.4h1.8v1.8h-1.8zM619.0 77.3h1.8v1.8h-1.8zM619.1 92.4h1.8v1.8h-1.8zM626.1 89.9h1.8v1.8h-1.8zM617.6 89.3h1.8v1.8h-1.8zM618.9 85.1h1.8v1.8h-1.8zM621.6 93.0h1.8v1.8h-1.8zM615.8 109.0h1.8v1.8h-1.8zM621.6 77.3h1.8v1.8h-1.8zM614.4 107.1h1.8v1.8h-1.8zM624.8 76.9h1.8v1.8h-1.8zM621.6 85.4h1.8v1.8h-1.8zM623.9 93.1h1.8v1.8h-1.8zM611.3 109.3h1.8v1.8h-1.8zM626.2 87.3h1.8v1.8h-1.8zM615.1 94.2h1.8v1.8h-1.8zM612.3 107.9h1.8v1.8h-1.8zM617.1 85.0h1.8v1.8h-1.8zM620.7 80.9h1.8v1.8h-1.8zM619.7 80.3h1.8v1.8h-1.8zM623.1 89.3h1.8v1.8h-1.8zM613.5 131.8h1.8v1.8h-1.8zM616.6 92.3h1.8v1.8h-1.8zM625.0 77.5h1.8v1.8h-1.8zM619.5 78.3h1.8v1.8h-1.8zM616.1 86.5h1.8v1.8h-1.8zM620.5 90.3h1.8v1.8h-1.8zM621.9 87.2h1.8v1.8h-1.8zM618.2 78.1h1.8v1.8h-1.8zM616.0 81.4h1.8v1.8h-1.8zM621.0 88.4h1.8v1.8h-1.8zM615.2 99.7h1.8v1.8h-1.8zM618.2 88.4h1.8v1.8h-1.8zM611.2 109.9h1.8v1.8h-1.8zM620.7 88.3h1.8v1.8h-1.8zM614.7 114.1h1.8v1.8h-1.8zM612.4 135.0h1.8v1.8h-1.8zM621.5 78.7h1.8v1.8h-1.8zM619.1 80.6h1.8v1.8h-1.8zM616.8 80.3h1.8v1.8h-1.8zM621.2 84.4h1.8v1.8h-1.8zM611.8 120.9h1.8v1.8h-1.8zM625.0 83.2h1.8v1.8h-1.8zM623.7 89.7h1.8v1.8h-1.8zM626.7 69.4h1.8v1.8h-1.8zM623.1 73.3h1.8v1.8h-1.8zM633.0 113.1h1.8v1.8h-1.8zM615.9 97.8h1.8v1.8h-1.8zM621.5 82.8h1.8v1.8h-1.8zM615.5 117.9h1.8v1.8h-1.8zM624.4 88.4h1.8v1.8h-1.8zM622.0 85.0h1.8v1.8h-1.8zM615.5 82.5h1.8v1.8h-1.8zM624.2 91.4h1.8v1.8h-1.8zM623.3 75.8h1.8v1.8h-1.8zM625.1 90.0h1.8v1.8h-1.8zM619.0 86.7h1.8v1.8h-1.8zM616.2 83.4h1.8v1.8h-1.8zM617.2 87.5h1.8v1.8h-1.8zM614.7 132.2h1.8v1.8h-1.8zM619.7 77.0h1.8v1.8h-1.8zM623.6 76.1h1.8v1.8h-1.8zM624.1 91.4h1.8v1.8h-1.8zM614.5 107.0h1.8v1.8h-1.8zM620.1 86.0h1.8v1.8h-1.8zM623.6 91.2h1.8v1.8h-1.8zM619.0 77.0h1.8v1.8h-1.8zM621.4 80.7h1.8v1.8h-1.8zM619.6 79.8h1.8v1.8h-1.8zM613.5 125.4h1.8v1.8h-1.8zM623.7 80.3h1.8v1.8h-1.8zM620.8 78.0h1.8v1.8h-1.8zM621.4 86.0h1.8v1.8h-1.8zM621.3 80.2h1.8v1.8h-1.8zM617.3 128.2h1.8v1.8h-1.8zM623.5 86.2h1.8v1.8h-1.8zM622.8 77.1h1.8v1.8h-1.8zM617.1 80.9h1.8v1.8h-1.8zM614.2 109.2h1.8v1.8h-1.8zM622.5 93.6h1.8v1.8h-1.8zM621.5 85.1h1.8v1.8h-1.8zM612.1 132.6h1.8v1.8h-1.8z" fill="#4df3ce"/>
<path d="M612.4 117.8h1.8v1.8h-1.8zM615.3 121.0h1.8v1.8h-1.8zM623.9 93.4h1.8v1.8h-1.8zM614.4 108.5h1.8v1.8h-1.8zM626.4 79.7h1.8v1.8h-1.8zM618.4 112.7h1.8v1.8h-1.8zM618.8 96.6h1.8v1.8h-1.8zM611.7 116.4h1.8v1.8h-1.8zM618.3 75.8h1.8v1.8h-1.8zM622.2 84.1h1.8v1.8h-1.8zM621.7 106.3h1.8v1.8h-1.8zM623.8 105.5h1.8v1.8h-1.8zM620.1 106.3h1.8v1.8h-1.8zM614.2 129.3h1.8v1.8h-1.8zM614.9 120.6h1.8v1.8h-1.8zM615.7 131.3h1.8v1.8h-1.8zM622.9 87.9h1.8v1.8h-1.8zM612.9 121.3h1.8v1.8h-1.8zM613.4 133.8h1.8v1.8h-1.8zM619.7 103.8h1.8v1.8h-1.8z" fill="#b2f396"/>
<path d="M614.9 133.9h1.8v1.8h-1.8zM619.0 114.7h1.8v1.8h-1.8z" fill="#ffa256"/>
<path d="M620.9 83.5h1.8v1.8h-1.8zM617.5 76.0h1.8v1.8h-1.8zM620.0 81.6h1.8v1.8h-1.8z" fill="#28dbde"/>
<path d="M623.9 82.1h1.8v1.8h-1.8zM623.3 93.5h1.8v1.8h-1.8zM624.5 80.3h1.8v1.8h-1.8zM621.8 76.3h1.8v1.8h-1.8zM621.1 97.8h1.8v1.8h-1.8zM616.5 103.7h1.8v1.8h-1.8zM614.7 115.2h1.8v1.8h-1.8zM617.4 90.5h1.8v1.8h-1.8zM615.5 112.3h1.8v1.8h-1.8zM617.8 89.5h1.8v1.8h-1.8zM617.4 82.8h1.8v1.8h-1.8zM618.7 84.6h1.8v1.8h-1.8zM612.5 119.5h1.8v1.8h-1.8zM623.7 83.5h1.8v1.8h-1.8zM618.3 75.8h1.8v1.8h-1.8zM624.1 76.5h1.8v1.8h-1.8zM625.5 80.2h1.8v1.8h-1.8zM625.4 92.7h1.8v1.8h-1.8zM619.3 84.9h1.8v1.8h-1.8zM621.9 89.6h1.8v1.8h-1.8zM625.9 80.2h1.8v1.8h-1.8zM619.6 78.9h1.8v1.8h-1.8zM625.6 91.2h1.8v1.8h-1.8zM614.2 136.3h1.8v1.8h-1.8zM619.3 92.3h1.8v1.8h-1.8zM621.2 80.5h1.8v1.8h-1.8zM621.1 75.6h1.8v1.8h-1.8zM621.0 93.5h1.8v1.8h-1.8zM624.4 91.6h1.8v1.8h-1.8zM623.9 93.4h1.8v1.8h-1.8zM624.6 92.2h1.8v1.8h-1.8zM621.9 84.5h1.8v1.8h-1.8zM613.4 131.1h1.8v1.8h-1.8zM618.7 114.4h1.8v1.8h-1.8zM624.7 91.0h1.8v1.8h-1.8zM619.5 91.2h1.8v1.8h-1.8zM623.9 87.9h1.8v1.8h-1.8zM616.3 115.3h1.8v1.8h-1.8zM622.8 90.0h1.8v1.8h-1.8zM620.0 86.5h1.8v1.8h-1.8zM618.8 90.0h1.8v1.8h-1.8zM616.1 114.0h1.8v1.8h-1.8zM616.4 136.3h1.8v1.8h-1.8zM620.8 92.5h1.8v1.8h-1.8zM619.2 85.4h1.8v1.8h-1.8zM617.3 109.1h1.8v1.8h-1.8zM619.6 90.2h1.8v1.8h-1.8zM615.8 119.9h1.8v1.8h-1.8zM624.5 83.4h1.8v1.8h-1.8zM626.3 76.5h1.8v1.8h-1.8zM616.2 88.3h1.8v1.8h-1.8zM619.0 75.8h1.8v1.8h-1.8zM617.4 80.7h1.8v1.8h-1.8z" fill="#4df3ce"/>
<path d="M615.1 136.5h1.8v1.8h-1.8zM617.0 108.3h1.8v1.8h-1.8zM620.3 79.4h1.8v1.8h-1.8zM618.0 75.0h1.8v1.8h-1.8zM624.3 91.1h1.8v1.8h-1.8zM613.5 120.7h1.8v1.8h-1.8zM613.7 110.9h1.8v1.8h-1.8zM620.9 118.9h1.8v1.8h-1.8zM618.4 80.2h1.8v1.8h-1.8zM613.3 123.3h1.8v1.8h-1.8zM619.5 96.7h1.8v1.8h-1.8zM616.9 132.7h1.8v1.8h-1.8zM612.8 109.0h1.8v1.8h-1.8zM614.2 121.9h1.8v1.8h-1.8zM612.1 136.6h1.8v1.8h-1.8zM624.2 97.3h1.8v1.8h-1.8zM611.7 132.7h1.8v1.8h-1.8zM612.8 118.4h1.8v1.8h-1.8zM626.4 75.7h1.8v1.8h-1.8zM617.1 105.7h1.8v1.8h-1.8zM625.4 75.0h1.8v1.8h-1.8zM619.1 117.8h1.8v1.8h-1.8zM618.0 118.2h1.8v1.8h-1.8zM612.1 115.7h1.8v1.8h-1.8zM621.9 109.2h1.8v1.8h-1.8zM614.8 125.5h1.8v1.8h-1.8zM612.3 113.7h1.8v1.8h-1.8zM619.2 120.1h1.8v1.8h-1.8zM621.6 117.2h1.8v1.8h-1.8zM620.7 88.8h1.8v1.8h-1.8zM612.3 120.8h1.8v1.8h-1.8zM620.1 89.5h1.8v1.8h-1.8zM614.2 133.4h1.8v1.8h-1.8zM613.3 129.9h1.8v1.8h-1.8zM616.5 130.9h1.8v1.8h-1.8zM616.8 125.8h1.8v1.8h-1.8zM612.3 113.8h1.8v1.8h-1.8zM625.0 88.7h1.8v1.8h-1.8zM612.9 107.8h1.8v1.8h-1.8zM625.6 81.8h1.8v1.8h-1.8zM619.8 85.8h1.8v1.8h-1.8zM620.8 83.5h1.8v1.8h-1.8zM612.5 120.5h1.8v1.8h-1.8zM615.0 118.7h1.8v1.8h-1.8zM611.1 112.7h1.8v1.8h-1.8zM615.0 119.9h1.8v1.8h-1.8zM621.2 94.2h1.8v1.8h-1.8zM613.5 126.4h1.8v1.8h-1.8zM617.2 111.9h1.8v1.8h-1.8zM614.3 112.5h1.8v1.8h-1.8zM619.7 102.2h1.8v1.8h-1.8zM616.1 133.0h1.8v1.8h-1.8zM614.1 112.6h1.8v1.8h-1.8zM611.5 133.4h1.8v1.8h-1.8zM626.7 86.1h1.8v1.8h-1.8zM617.6 134.1h1.8v1.8h-1.8zM617.2 102.7h1.8v1.8h-1.8zM616.7 132.0h1.8v1.8h-1.8zM619.9 97.6h1.8v1.8h-1.8zM632.1 88.3h1.8v1.8h-1.8zM631.7 93.7h1.8v1.8h-1.8zM635.9 126.1h1.8v1.8h-1.8zM635.0 133.7h1.8v1.8h-1.8zM616.3 133.7h1.8v1.8h-1.8zM617.1 136.8h1.8v1.8h-1.8zM617.4 82.5h1.8v1.8h-1.8zM616.6 133.3h1.8v1.8h-1.8zM621.0 115.6h1.8v1.8h-1.8z" fill="#b2f396"/>
<path d="M621.9 103.2h1.8v1.8h-1.8zM618.7 119.4h1.8v1.8h-1.8z" fill="#e6cd73"/>
<path d="M625.9 78.4h1.8v1.8h-1.8zM621.1 118.9h1.8v1.8h-1.8zM624.8 92.0h1.8v1.8h-1.8zM625.7 98.5h1.8v1.8h-1.8zM622.8 105.4h1.8v1.8h-1.8zM615.7 122.9h1.8v1.8h-1.8zM619.3 109.2h1.8v1.8h-1.8zM625.6 98.6h1.8v1.8h-1.8zM617.7 112.7h1.8v1.8h-1.8zM612.4 120.1h1.8v1.8h-1.8zM622.8 102.6h1.8v1.8h-1.8zM621.3 113.0h1.8v1.8h-1.8z" fill="#ffa256"/>
<path d="M625.4 99.6h1.8v1.8h-1.8zM629.5 98.3h1.8v1.8h-1.8zM626.0 97.0h1.8v1.8h-1.8z" fill="#ff4d27"/>
<path d="M619.9 78.2h1.8v1.8h-1.8zM611.6 107.3h1.8v1.8h-1.8zM622.5 77.8h1.8v1.8h-1.8zM624.5 89.1h1.8v1.8h-1.8zM619.1 90.0h1.8v1.8h-1.8z" fill="#4df3ce"/>
<path d="M614.6 133.4h1.8v1.8h-1.8zM610.8 113.4h1.8v1.8h-1.8zM618.6 103.6h1.8v1.8h-1.8zM626.0 76.3h1.8v1.8h-1.8zM614.7 126.4h1.8v1.8h-1.8zM612.8 115.3h1.8v1.8h-1.8zM615.6 107.2h1.8v1.8h-1.8zM624.1 98.4h1.8v1.8h-1.8zM621.7 101.9h1.8v1.8h-1.8zM624.0 102.7h1.8v1.8h-1.8zM620.1 88.6h1.8v1.8h-1.8zM620.2 83.5h1.8v1.8h-1.8zM622.5 78.8h1.8v1.8h-1.8zM618.3 110.9h1.8v1.8h-1.8zM613.2 130.7h1.8v1.8h-1.8zM612.8 110.3h1.8v1.8h-1.8zM616.9 111.8h1.8v1.8h-1.8zM622.5 116.1h1.8v1.8h-1.8zM612.7 119.0h1.8v1.8h-1.8zM618.2 108.2h1.8v1.8h-1.8zM617.0 106.9h1.8v1.8h-1.8zM617.1 103.2h1.8v1.8h-1.8zM613.9 113.8h1.8v1.8h-1.8zM611.4 113.1h1.8v1.8h-1.8zM612.6 127.2h1.8v1.8h-1.8zM619.5 83.7h1.8v1.8h-1.8zM623.5 88.4h1.8v1.8h-1.8zM621.5 91.5h1.8v1.8h-1.8zM611.6 112.3h1.8v1.8h-1.8zM611.6 120.5h1.8v1.8h-1.8zM625.0 91.0h1.8v1.8h-1.8zM622.7 75.3h1.8v1.8h-1.8zM612.4 129.8h1.8v1.8h-1.8zM620.6 98.5h1.8v1.8h-1.8zM619.0 114.4h1.8v1.8h-1.8zM614.9 129.9h1.8v1.8h-1.8zM613.4 131.2h1.8v1.8h-1.8zM619.0 95.4h1.8v1.8h-1.8zM616.5 120.7h1.8v1.8h-1.8zM612.2 108.9h1.8v1.8h-1.8zM622.0 77.4h1.8v1.8h-1.8zM611.6 135.7h1.8v1.8h-1.8zM614.9 118.9h1.8v1.8h-1.8zM615.7 117.5h1.8v1.8h-1.8zM622.9 96.7h1.8v1.8h-1.8zM613.3 128.3h1.8v1.8h-1.8zM619.2 109.0h1.8v1.8h-1.8zM622.6 77.3h1.8v1.8h-1.8zM615.4 110.5h1.8v1.8h-1.8zM620.3 77.1h1.8v1.8h-1.8zM618.4 117.2h1.8v1.8h-1.8zM611.0 123.6h1.8v1.8h-1.8zM613.4 109.2h1.8v1.8h-1.8zM615.7 116.5h1.8v1.8h-1.8zM617.0 121.4h1.8v1.8h-1.8zM615.1 120.6h1.8v1.8h-1.8zM616.8 116.6h1.8v1.8h-1.8zM613.9 114.8h1.8v1.8h-1.8zM620.1 98.1h1.8v1.8h-1.8zM621.7 106.2h1.8v1.8h-1.8zM622.0 108.4h1.8v1.8h-1.8zM615.5 126.6h1.8v1.8h-1.8zM619.4 87.4h1.8v1.8h-1.8zM612.1 109.6h1.8v1.8h-1.8zM611.3 118.0h1.8v1.8h-1.8zM621.0 104.6h1.8v1.8h-1.8z" fill="#b2f396"/>
<path d="M617.8 119.1h1.8v1.8h-1.8zM617.7 105.1h1.8v1.8h-1.8zM617.8 117.4h1.8v1.8h-1.8zM622.7 105.9h1.8v1.8h-1.8zM623.2 108.5h1.8v1.8h-1.8zM619.1 108.2h1.8v1.8h-1.8z" fill="#e6cd73"/>
<path d="M623.5 91.6h1.8v1.8h-1.8zM620.9 82.6h1.8v1.8h-1.8zM618.9 96.9h1.8v1.8h-1.8zM627.3 100.5h1.8v1.8h-1.8zM622.7 85.5h1.8v1.8h-1.8zM617.1 112.0h1.8v1.8h-1.8zM623.4 88.9h1.8v1.8h-1.8zM622.7 92.8h1.8v1.8h-1.8zM619.2 121.4h1.8v1.8h-1.8zM623.8 100.3h1.8v1.8h-1.8zM625.8 94.0h1.8v1.8h-1.8zM625.6 98.1h1.8v1.8h-1.8zM623.4 94.3h1.8v1.8h-1.8zM619.0 97.2h1.8v1.8h-1.8zM620.5 116.2h1.8v1.8h-1.8zM617.8 112.9h1.8v1.8h-1.8zM624.7 97.9h1.8v1.8h-1.8zM623.6 95.1h1.8v1.8h-1.8zM620.6 95.3h1.8v1.8h-1.8zM620.9 93.2h1.8v1.8h-1.8zM625.0 86.9h1.8v1.8h-1.8zM621.9 81.9h1.8v1.8h-1.8zM619.0 97.5h1.8v1.8h-1.8zM622.6 102.0h1.8v1.8h-1.8zM626.3 99.4h1.8v1.8h-1.8zM619.5 94.6h1.8v1.8h-1.8zM617.4 112.7h1.8v1.8h-1.8zM621.3 118.1h1.8v1.8h-1.8zM622.2 114.3h1.8v1.8h-1.8zM623.3 109.1h1.8v1.8h-1.8zM624.9 98.6h1.8v1.8h-1.8zM620.0 104.7h1.8v1.8h-1.8zM624.6 91.3h1.8v1.8h-1.8zM616.7 119.9h1.8v1.8h-1.8zM620.3 96.7h1.8v1.8h-1.8zM622.3 105.5h1.8v1.8h-1.8zM621.0 104.3h1.8v1.8h-1.8zM621.8 110.1h1.8v1.8h-1.8zM622.6 94.3h1.8v1.8h-1.8zM617.0 107.2h1.8v1.8h-1.8zM617.2 116.6h1.8v1.8h-1.8zM622.8 107.6h1.8v1.8h-1.8zM618.9 92.8h1.8v1.8h-1.8zM618.1 110.6h1.8v1.8h-1.8zM624.2 98.6h1.8v1.8h-1.8zM623.4 110.7h1.8v1.8h-1.8zM624.1 86.4h1.8v1.8h-1.8zM619.4 102.9h1.8v1.8h-1.8zM620.9 94.3h1.8v1.8h-1.8zM622.8 110.8h1.8v1.8h-1.8zM624.7 94.0h1.8v1.8h-1.8zM617.7 91.6h1.8v1.8h-1.8z" fill="#ffa256"/>
<path d="M617.9 113.0h1.8v1.8h-1.8zM618.8 89.3h1.8v1.8h-1.8zM625.1 93.1h1.8v1.8h-1.8zM625.3 93.8h1.8v1.8h-1.8zM628.4 98.4h1.8v1.8h-1.8zM628.1 79.2h1.8v1.8h-1.8zM624.0 93.3h1.8v1.8h-1.8zM626.2 99.9h1.8v1.8h-1.8zM622.5 114.3h1.8v1.8h-1.8zM626.8 100.0h1.8v1.8h-1.8zM629.0 92.7h1.8v1.8h-1.8zM624.5 93.8h1.8v1.8h-1.8zM628.3 96.9h1.8v1.8h-1.8z" fill="#ff4d27"/>
<path d="M615.5 133.3h1.8v1.8h-1.8zM615.4 111.7h1.8v1.8h-1.8zM625.0 83.6h1.8v1.8h-1.8zM623.3 96.0h1.8v1.8h-1.8zM625.4 80.2h1.8v1.8h-1.8zM617.3 131.6h1.8v1.8h-1.8zM624.5 82.2h1.8v1.8h-1.8zM613.0 124.1h1.8v1.8h-1.8zM622.9 104.2h1.8v1.8h-1.8zM621.4 92.5h1.8v1.8h-1.8zM616.7 112.3h1.8v1.8h-1.8zM615.5 110.3h1.8v1.8h-1.8zM616.7 128.5h1.8v1.8h-1.8zM620.7 93.0h1.8v1.8h-1.8zM620.1 101.8h1.8v1.8h-1.8z" fill="#b2f396"/>
<path d="M617.1 110.4h1.8v1.8h-1.8z" fill="#e6cd73"/>
<path d="M623.8 89.3h1.8v1.8h-1.8zM618.6 114.3h1.8v1.8h-1.8zM623.1 98.0h1.8v1.8h-1.8zM612.1 109.0h1.8v1.8h-1.8zM618.0 116.5h1.8v1.8h-1.8zM620.5 106.4h1.8v1.8h-1.8zM617.5 104.8h1.8v1.8h-1.8zM622.1 100.8h1.8v1.8h-1.8zM623.2 107.3h1.8v1.8h-1.8zM621.2 102.7h1.8v1.8h-1.8zM618.9 109.1h1.8v1.8h-1.8zM622.9 107.2h1.8v1.8h-1.8zM612.8 113.3h1.8v1.8h-1.8zM624.8 91.6h1.8v1.8h-1.8zM618.0 106.6h1.8v1.8h-1.8zM616.8 114.5h1.8v1.8h-1.8zM626.1 98.3h1.8v1.8h-1.8zM620.9 94.2h1.8v1.8h-1.8zM622.8 113.1h1.8v1.8h-1.8zM622.1 98.7h1.8v1.8h-1.8zM618.8 111.2h1.8v1.8h-1.8zM620.5 113.8h1.8v1.8h-1.8zM618.4 76.4h1.8v1.8h-1.8zM621.2 115.0h1.8v1.8h-1.8zM623.9 87.1h1.8v1.8h-1.8zM619.8 88.4h1.8v1.8h-1.8zM620.3 97.3h1.8v1.8h-1.8zM620.1 86.6h1.8v1.8h-1.8zM623.5 87.5h1.8v1.8h-1.8zM621.4 113.4h1.8v1.8h-1.8zM617.7 76.6h1.8v1.8h-1.8zM617.7 85.1h1.8v1.8h-1.8zM619.7 107.2h1.8v1.8h-1.8zM620.2 116.3h1.8v1.8h-1.8zM626.5 99.0h1.8v1.8h-1.8zM621.8 89.8h1.8v1.8h-1.8zM618.6 90.2h1.8v1.8h-1.8zM619.6 95.9h1.8v1.8h-1.8zM617.0 118.0h1.8v1.8h-1.8zM611.5 132.0h1.8v1.8h-1.8zM627.9 96.9h1.8v1.8h-1.8zM617.6 90.2h1.8v1.8h-1.8zM623.0 116.5h1.8v1.8h-1.8z" fill="#ffa256"/>
<path d="M634.3 122.0h1.8v1.8h-1.8zM618.4 97.3h1.8v1.8h-1.8zM630.9 115.4h1.8v1.8h-1.8zM625.3 93.1h1.8v1.8h-1.8zM623.7 102.1h1.8v1.8h-1.8zM620.4 113.5h1.8v1.8h-1.8zM627.1 99.9h1.8v1.8h-1.8zM625.2 99.1h1.8v1.8h-1.8zM625.5 96.8h1.8v1.8h-1.8zM621.9 88.6h1.8v1.8h-1.8zM634.2 125.1h1.8v1.8h-1.8zM625.0 88.9h1.8v1.8h-1.8zM627.8 91.0h1.8v1.8h-1.8zM619.1 118.4h1.8v1.8h-1.8zM626.1 97.0h1.8v1.8h-1.8zM624.4 99.8h1.8v1.8h-1.8zM626.3 86.3h1.8v1.8h-1.8zM626.7 80.4h1.8v1.8h-1.8zM634.4 124.4h1.8v1.8h-1.8zM619.2 118.0h1.8v1.8h-1.8zM629.4 95.9h1.8v1.8h-1.8zM629.7 104.4h1.8v1.8h-1.8zM627.7 98.5h1.8v1.8h-1.8zM625.1 100.4h1.8v1.8h-1.8zM630.4 105.2h1.8v1.8h-1.8zM621.0 135.2h1.8v1.8h-1.8zM633.8 122.8h1.8v1.8h-1.8zM630.5 103.2h1.8v1.8h-1.8zM629.1 134.8h1.8v1.8h-1.8zM617.0 120.2h1.8v1.8h-1.8zM618.4 107.9h1.8v1.8h-1.8zM626.8 134.0h1.8v1.8h-1.8zM619.1 117.2h1.8v1.8h-1.8zM627.0 84.9h1.8v1.8h-1.8zM634.3 120.6h1.8v1.8h-1.8zM630.7 107.5h1.8v1.8h-1.8zM630.9 112.9h1.8v1.8h-1.8zM631.2 108.9h1.8v1.8h-1.8zM616.1 124.7h1.8v1.8h-1.8zM625.9 94.2h1.8v1.8h-1.8zM632.2 135.7h1.8v1.8h-1.8zM634.4 119.5h1.8v1.8h-1.8zM625.1 99.9h1.8v1.8h-1.8zM622.1 107.3h1.8v1.8h-1.8zM629.9 101.5h1.8v1.8h-1.8zM619.8 108.4h1.8v1.8h-1.8zM628.7 96.1h1.8v1.8h-1.8zM616.4 133.0h1.8v1.8h-1.8zM621.0 109.4h1.8v1.8h-1.8zM635.0 130.3h1.8v1.8h-1.8zM634.1 129.4h1.8v1.8h-1.8zM634.3 129.2h1.8v1.8h-1.8zM615.9 122.6h1.8v1.8h-1.8zM621.9 106.0h1.8v1.8h-1.8zM616.0 125.3h1.8v1.8h-1.8zM634.0 122.8h1.8v1.8h-1.8zM631.3 116.8h1.8v1.8h-1.8zM623.2 95.3h1.8v1.8h-1.8zM624.6 101.1h1.8v1.8h-1.8zM623.7 135.9h1.8v1.8h-1.8zM628.7 95.8h1.8v1.8h-1.8zM628.3 102.2h1.8v1.8h-1.8zM625.2 86.1h1.8v1.8h-1.8zM632.3 133.2h1.8v1.8h-1.8zM623.6 101.5h1.8v1.8h-1.8zM630.2 105.9h1.8v1.8h-1.8zM632.0 118.1h1.8v1.8h-1.8zM622.2 135.2h1.8v1.8h-1.8zM615.9 124.7h1.8v1.8h-1.8zM625.2 99.2h1.8v1.8h-1.8zM617.0 130.9h1.8v1.8h-1.8zM619.9 111.8h1.8v1.8h-1.8zM632.5 135.2h1.8v1.8h-1.8zM617.2 136.2h1.8v1.8h-1.8zM624.8 102.5h1.8v1.8h-1.8zM627.6 97.8h1.8v1.8h-1.8zM631.6 113.4h1.8v1.8h-1.8zM616.2 132.4h1.8v1.8h-1.8zM632.7 129.2h1.8v1.8h-1.8zM634.9 128.9h1.8v1.8h-1.8zM620.0 114.0h1.8v1.8h-1.8zM624.6 96.3h1.8v1.8h-1.8z" fill="#ff4d27"/>
<path d="M625.2 100.6 L630.6 101.2 L632.4 107.8 L633.0 117.4 L636.0 120.4 L636.2 131.7 L633.6 136.7 L617.4 137.9 L616.2 131.7 L616.8 122.1 L619.8 117.4 L622.2 106.6 Z" fill="#ff4d27"/>
<path d="M617.5 83.7h1.8v1.8h-1.8zM621.7 85.0h1.8v1.8h-1.8zM614.7 112.4h1.8v1.8h-1.8zM614.5 115.2h1.8v1.8h-1.8z" fill="#b2f396"/>
<path d="M622.9 112.5h1.8v1.8h-1.8z" fill="#e6cd73"/>
<path d="M617.1 106.4h1.8v1.8h-1.8zM625.9 81.4h1.8v1.8h-1.8zM622.8 97.5h1.8v1.8h-1.8zM622.2 116.6h1.8v1.8h-1.8zM622.2 94.0h1.8v1.8h-1.8zM622.6 107.8h1.8v1.8h-1.8zM622.5 93.1h1.8v1.8h-1.8zM613.4 133.1h1.8v1.8h-1.8zM619.5 107.0h1.8v1.8h-1.8zM622.2 106.5h1.8v1.8h-1.8zM623.3 89.0h1.8v1.8h-1.8zM620.2 93.8h1.8v1.8h-1.8zM619.9 88.4h1.8v1.8h-1.8zM624.4 91.9h1.8v1.8h-1.8zM618.8 120.0h1.8v1.8h-1.8zM623.6 97.2h1.8v1.8h-1.8z" fill="#ffa256"/>
<path d="M633.6 132.6h1.8v1.8h-1.8zM616.3 132.2h1.8v1.8h-1.8zM633.8 130.1h1.8v1.8h-1.8zM618.6 119.1h1.8v1.8h-1.8zM616.6 131.2h1.8v1.8h-1.8zM635.3 126.5h1.8v1.8h-1.8zM626.2 97.1h1.8v1.8h-1.8zM628.4 97.1h1.8v1.8h-1.8zM633.7 123.5h1.8v1.8h-1.8zM625.0 98.3h1.8v1.8h-1.8zM629.1 99.5h1.8v1.8h-1.8zM620.7 115.1h1.8v1.8h-1.8zM617.8 117.6h1.8v1.8h-1.8zM625.6 135.4h1.8v1.8h-1.8zM624.1 100.4h1.8v1.8h-1.8zM633.3 118.3h1.8v1.8h-1.8zM616.9 130.9h1.8v1.8h-1.8zM631.1 111.9h1.8v1.8h-1.8zM618.7 117.7h1.8v1.8h-1.8zM622.1 113.2h1.8v1.8h-1.8zM631.1 107.4h1.8v1.8h-1.8zM624.2 95.0h1.8v1.8h-1.8zM618.9 118.1h1.8v1.8h-1.8zM615.6 126.7h1.8v1.8h-1.8zM634.0 120.4h1.8v1.8h-1.8zM616.7 124.0h1.8v1.8h-1.8zM631.7 105.3h1.8v1.8h-1.8zM627.9 100.1h1.8v1.8h-1.8zM621.8 106.8h1.8v1.8h-1.8zM622.0 135.0h1.8v1.8h-1.8zM624.6 96.2h1.8v1.8h-1.8zM630.6 109.6h1.8v1.8h-1.8zM617.2 136.5h1.8v1.8h-1.8zM616.4 132.4h1.8v1.8h-1.8zM628.1 101.8h1.8v1.8h-1.8zM630.4 105.0h1.8v1.8h-1.8zM616.6 124.7h1.8v1.8h-1.8zM627.3 100.7h1.8v1.8h-1.8zM630.7 114.0h1.8v1.8h-1.8zM622.6 108.3h1.8v1.8h-1.8zM625.3 82.6h1.8v1.8h-1.8zM627.2 82.8h1.8v1.8h-1.8zM624.6 101.4h1.8v1.8h-1.8zM626.2 100.9h1.8v1.8h-1.8zM625.5 88.5h1.8v1.8h-1.8zM633.8 119.3h1.8v1.8h-1.8zM633.5 127.3h1.8v1.8h-1.8zM626.6 101.2h1.8v1.8h-1.8zM633.6 132.3h1.8v1.8h-1.8zM632.1 133.5h1.8v1.8h-1.8zM617.6 123.3h1.8v1.8h-1.8zM629.0 102.1h1.8v1.8h-1.8zM633.2 119.1h1.8v1.8h-1.8zM631.4 108.4h1.8v1.8h-1.8zM620.7 111.2h1.8v1.8h-1.8zM615.9 130.6h1.8v1.8h-1.8zM621.0 135.7h1.8v1.8h-1.8zM628.6 101.8h1.8v1.8h-1.8zM626.1 101.1h1.8v1.8h-1.8zM630.2 105.1h1.8v1.8h-1.8zM631.0 109.5h1.8v1.8h-1.8zM622.7 89.3h1.8v1.8h-1.8zM628.6 100.3h1.8v1.8h-1.8zM633.3 133.1h1.8v1.8h-1.8zM623.7 103.0h1.8v1.8h-1.8zM622.5 104.6h1.8v1.8h-1.8zM631.3 103.8h1.8v1.8h-1.8zM630.9 134.1h1.8v1.8h-1.8zM619.7 111.2h1.8v1.8h-1.8zM625.2 134.7h1.8v1.8h-1.8zM619.1 107.0h1.8v1.8h-1.8zM624.7 97.8h1.8v1.8h-1.8zM618.6 118.4h1.8v1.8h-1.8zM627.8 136.1h1.8v1.8h-1.8zM629.1 92.3h1.8v1.8h-1.8zM623.5 103.5h1.8v1.8h-1.8zM624.4 104.2h1.8v1.8h-1.8zM629.9 101.7h1.8v1.8h-1.8zM616.2 128.6h1.8v1.8h-1.8zM621.9 108.2h1.8v1.8h-1.8zM633.9 106.9h1.8v1.8h-1.8zM630.7 95.6h1.8v1.8h-1.8zM630.3 85.1h1.8v1.8h-1.8zM616.8 136.8h1.8v1.8h-1.8zM620.4 115.5h1.8v1.8h-1.8zM621.7 99.1h1.8v1.8h-1.8zM633.8 120.4h1.8v1.8h-1.8zM622.1 105.4h1.8v1.8h-1.8zM634.5 124.9h1.8v1.8h-1.8zM633.7 130.4h1.8v1.8h-1.8zM627.8 96.6h1.8v1.8h-1.8zM618.6 119.3h1.8v1.8h-1.8zM630.5 112.2h1.8v1.8h-1.8zM617.7 119.1h1.8v1.8h-1.8zM633.8 131.3h1.8v1.8h-1.8zM631.4 135.1h1.8v1.8h-1.8zM632.3 108.1h1.8v1.8h-1.8zM625.9 83.7h1.8v1.8h-1.8zM620.2 112.1h1.8v1.8h-1.8zM622.0 105.0h1.8v1.8h-1.8zM630.9 111.0h1.8v1.8h-1.8zM627.2 77.5h1.8v1.8h-1.8zM629.2 94.6h1.8v1.8h-1.8zM633.9 120.0h1.8v1.8h-1.8zM615.6 128.7h1.8v1.8h-1.8zM618.3 104.2h1.8v1.8h-1.8zM619.3 135.4h1.8v1.8h-1.8zM615.9 126.0h1.8v1.8h-1.8zM617.1 133.8h1.8v1.8h-1.8zM622.1 136.4h1.8v1.8h-1.8zM630.6 110.0h1.8v1.8h-1.8zM629.4 107.8h1.8v1.8h-1.8zM634.8 127.8h1.8v1.8h-1.8zM617.6 120.1h1.8v1.8h-1.8zM634.4 123.3h1.8v1.8h-1.8zM631.1 113.4h1.8v1.8h-1.8zM625.1 95.1h1.8v1.8h-1.8zM617.6 120.8h1.8v1.8h-1.8zM622.3 101.9h1.8v1.8h-1.8zM616.8 133.5h1.8v1.8h-1.8z" fill="#ff4d27"/>
<path d="M618.5 97.7h1.8v1.8h-1.8z" fill="#b2f396"/>
<path d="M621.7 93.7h1.8v1.8h-1.8zM616.7 119.2h1.8v1.8h-1.8zM617.0 118.4h1.8v1.8h-1.8zM617.8 103.7h1.8v1.8h-1.8zM620.5 93.4h1.8v1.8h-1.8zM621.9 89.5h1.8v1.8h-1.8zM618.1 106.9h1.8v1.8h-1.8zM622.1 101.7h1.8v1.8h-1.8zM619.2 92.5h1.8v1.8h-1.8zM618.2 102.3h1.8v1.8h-1.8zM622.5 117.5h1.8v1.8h-1.8z" fill="#ffa256"/>
<path d="M621.2 109.7h1.8v1.8h-1.8zM617.5 123.9h1.8v1.8h-1.8zM631.7 111.8h1.8v1.8h-1.8zM622.5 104.0h1.8v1.8h-1.8zM618.5 112.5h1.8v1.8h-1.8zM635.1 130.2h1.8v1.8h-1.8zM621.6 108.5h1.8v1.8h-1.8zM628.4 136.6h1.8v1.8h-1.8zM624.1 99.9h1.8v1.8h-1.8zM630.6 107.6h1.8v1.8h-1.8zM622.9 136.0h1.8v1.8h-1.8zM620.1 135.0h1.8v1.8h-1.8zM618.6 118.1h1.8v1.8h-1.8zM616.2 124.1h1.8v1.8h-1.8zM629.1 82.9h1.8v1.8h-1.8zM631.3 114.2h1.8v1.8h-1.8zM616.5 136.5h1.8v1.8h-1.8zM616.1 131.3h1.8v1.8h-1.8zM615.8 132.8h1.8v1.8h-1.8zM630.1 113.8h1.8v1.8h-1.8zM615.3 126.5h1.8v1.8h-1.8zM621.2 110.4h1.8v1.8h-1.8zM619.8 136.4h1.8v1.8h-1.8zM630.4 112.3h1.8v1.8h-1.8zM622.2 120.1h1.8v1.8h-1.8zM619.6 116.1h1.8v1.8h-1.8zM616.7 123.3h1.8v1.8h-1.8zM617.7 136.6h1.8v1.8h-1.8zM627.0 100.5h1.8v1.8h-1.8zM631.2 113.2h1.8v1.8h-1.8zM635.0 126.2h1.8v1.8h-1.8zM630.6 105.4h1.8v1.8h-1.8zM625.6 83.5h1.8v1.8h-1.8zM634.9 127.9h1.8v1.8h-1.8zM633.8 120.5h1.8v1.8h-1.8zM628.6 102.2h1.8v1.8h-1.8zM619.8 95.6h1.8v1.8h-1.8zM622.7 104.2h1.8v1.8h-1.8zM631.8 133.8h1.8v1.8h-1.8zM622.6 93.3h1.8v1.8h-1.8zM633.1 124.0h1.8v1.8h-1.8zM621.5 107.7h1.8v1.8h-1.8zM632.3 116.8h1.8v1.8h-1.8zM625.0 100.9h1.8v1.8h-1.8zM632.0 134.4h1.8v1.8h-1.8zM626.3 97.8h1.8v1.8h-1.8zM616.7 123.0h1.8v1.8h-1.8zM616.9 133.6h1.8v1.8h-1.8zM624.6 100.2h1.8v1.8h-1.8zM628.6 102.7h1.8v1.8h-1.8zM615.8 131.9h1.8v1.8h-1.8zM619.2 117.9h1.8v1.8h-1.8zM634.6 124.5h1.8v1.8h-1.8zM633.5 131.0h1.8v1.8h-1.8zM618.9 136.6h1.8v1.8h-1.8zM621.7 106.8h1.8v1.8h-1.8zM620.2 115.6h1.8v1.8h-1.8zM621.5 112.5h1.8v1.8h-1.8zM620.4 110.9h1.8v1.8h-1.8zM619.8 113.7h1.8v1.8h-1.8zM634.4 129.2h1.8v1.8h-1.8zM622.3 106.2h1.8v1.8h-1.8zM618.9 116.6h1.8v1.8h-1.8zM617.0 134.3h1.8v1.8h-1.8zM625.4 100.1h1.8v1.8h-1.8zM628.1 78.3h1.8v1.8h-1.8zM635.0 128.3h1.8v1.8h-1.8zM629.2 95.9h1.8v1.8h-1.8zM621.8 113.9h1.8v1.8h-1.8zM626.4 97.0h1.8v1.8h-1.8zM616.6 136.2h1.8v1.8h-1.8zM616.7 129.1h1.8v1.8h-1.8zM629.2 136.2h1.8v1.8h-1.8zM631.3 134.9h1.8v1.8h-1.8zM622.3 104.8h1.8v1.8h-1.8zM618.2 117.8h1.8v1.8h-1.8zM620.7 114.0h1.8v1.8h-1.8zM627.8 95.1h1.8v1.8h-1.8zM620.3 115.7h1.8v1.8h-1.8zM628.7 93.4h1.8v1.8h-1.8zM633.5 132.6h1.8v1.8h-1.8zM620.0 110.0h1.8v1.8h-1.8zM627.7 100.1h1.8v1.8h-1.8zM632.2 111.7h1.8v1.8h-1.8zM626.1 100.2h1.8v1.8h-1.8zM625.1 86.3h1.8v1.8h-1.8zM630.5 112.8h1.8v1.8h-1.8zM627.7 96.0h1.8v1.8h-1.8zM619.7 113.5h1.8v1.8h-1.8zM628.5 135.2h1.8v1.8h-1.8zM628.7 135.8h1.8v1.8h-1.8zM619.8 118.1h1.8v1.8h-1.8zM629.7 98.9h1.8v1.8h-1.8zM624.7 89.5h1.8v1.8h-1.8zM624.4 93.4h1.8v1.8h-1.8zM629.4 104.2h1.8v1.8h-1.8zM616.8 111.9h1.8v1.8h-1.8zM625.4 94.5h1.8v1.8h-1.8zM622.8 107.4h1.8v1.8h-1.8zM626.9 99.5h1.8v1.8h-1.8zM633.9 124.4h1.8v1.8h-1.8zM616.9 123.1h1.8v1.8h-1.8zM624.2 98.7h1.8v1.8h-1.8zM627.6 93.1h1.8v1.8h-1.8zM627.0 99.4h1.8v1.8h-1.8zM634.8 130.7h1.8v1.8h-1.8zM624.7 99.7h1.8v1.8h-1.8zM626.8 135.0h1.8v1.8h-1.8zM629.2 96.9h1.8v1.8h-1.8zM628.8 95.1h1.8v1.8h-1.8zM627.5 95.9h1.8v1.8h-1.8zM627.2 81.4h1.8v1.8h-1.8zM624.9 100.5h1.8v1.8h-1.8zM630.1 116.8h1.8v1.8h-1.8zM627.6 93.8h1.8v1.8h-1.8zM624.1 89.1h1.8v1.8h-1.8zM629.4 100.3h1.8v1.8h-1.8zM628.7 94.4h1.8v1.8h-1.8zM629.2 97.9h1.8v1.8h-1.8zM628.9 98.7h1.8v1.8h-1.8zM625.2 97.9h1.8v1.8h-1.8zM630.2 103.1h1.8v1.8h-1.8zM627.8 87.0h1.8v1.8h-1.8zM629.0 93.6h1.8v1.8h-1.8zM626.9 98.9h1.8v1.8h-1.8zM629.4 99.0h1.8v1.8h-1.8zM626.6 84.2h1.8v1.8h-1.8zM625.9 99.7h1.8v1.8h-1.8zM626.4 100.1h1.8v1.8h-1.8zM627.9 96.9h1.8v1.8h-1.8z" fill="#ff4d27"/>
</g>
<path d="M789.5 159V652 M825.5 159V652" stroke="#6a6a6a" stroke-width="1" fill="none"/>
<g clip-path="url(#rightclip)">
<path d="M832.9 328.9h1.8v1.8h-1.8zM802.7 326.3h1.8v1.8h-1.8zM826.6 329.9h1.8v1.8h-1.8zM829.3 329.7h1.8v1.8h-1.8zM819.1 331.6h1.8v1.8h-1.8zM794.7 326.5h1.8v1.8h-1.8zM799.5 327.4h1.8v1.8h-1.8zM779.8 327.2h1.8v1.8h-1.8zM806.9 327.2h1.8v1.8h-1.8zM775.6 325.4h1.8v1.8h-1.8zM780.8 323.0h1.8v1.8h-1.8zM786.1 324.8h1.8v1.8h-1.8zM788.7 324.2h1.8v1.8h-1.8zM796.5 325.8h1.8v1.8h-1.8zM817.0 325.3h1.8v1.8h-1.8zM841.6 331.8h1.8v1.8h-1.8zM853.1 334.0h1.8v1.8h-1.8zM780.1 325.8h1.8v1.8h-1.8zM774.9 326.2h1.8v1.8h-1.8zM798.2 327.2h1.8v1.8h-1.8z" fill="#4e4dfc"/>
<path d="M827.5 333.9h1.8v1.8h-1.8zM828.5 332.0h1.8v1.8h-1.8zM828.4 329.7h1.8v1.8h-1.8zM772.9 337.1h1.8v1.8h-1.8zM827.2 330.6h1.8v1.8h-1.8zM782.6 336.4h1.8v1.8h-1.8zM783.0 326.4h1.8v1.8h-1.8zM799.4 327.4h1.8v1.8h-1.8zM801.2 326.9h1.8v1.8h-1.8zM784.6 327.1h1.8v1.8h-1.8zM831.5 330.0h1.8v1.8h-1.8zM815.1 334.4h1.8v1.8h-1.8zM799.5 336.2h1.8v1.8h-1.8zM777.0 326.0h1.8v1.8h-1.8zM799.0 326.0h1.8v1.8h-1.8zM783.5 326.6h1.8v1.8h-1.8zM784.0 327.4h1.8v1.8h-1.8zM806.0 326.2h1.8v1.8h-1.8zM777.0 336.4h1.8v1.8h-1.8zM786.5 336.3h1.8v1.8h-1.8zM805.0 326.3h1.8v1.8h-1.8zM785.8 336.7h1.8v1.8h-1.8zM796.8 337.3h1.8v1.8h-1.8zM786.1 325.4h1.8v1.8h-1.8zM798.3 326.3h1.8v1.8h-1.8zM778.3 325.7h1.8v1.8h-1.8zM772.5 338.1h1.8v1.8h-1.8zM820.3 330.3h1.8v1.8h-1.8zM805.1 326.4h1.8v1.8h-1.8zM796.3 336.2h1.8v1.8h-1.8zM777.4 336.5h1.8v1.8h-1.8zM831.3 333.5h1.8v1.8h-1.8zM794.2 325.8h1.8v1.8h-1.8zM781.3 325.4h1.8v1.8h-1.8zM801.0 335.5h1.8v1.8h-1.8zM842.1 330.2h1.8v1.8h-1.8zM789.6 323.9h1.8v1.8h-1.8zM801.8 327.5h1.8v1.8h-1.8zM789.4 327.1h1.8v1.8h-1.8zM806.8 326.3h1.8v1.8h-1.8zM775.9 325.2h1.8v1.8h-1.8zM790.3 337.5h1.8v1.8h-1.8z" fill="#4df3ce"/>
<path d="M824.7 334.7h1.8v1.8h-1.8zM815.6 332.4h1.8v1.8h-1.8zM799.9 335.4h1.8v1.8h-1.8zM833.6 331.7h1.8v1.8h-1.8zM776.4 336.8h1.8v1.8h-1.8z" fill="#b2f396"/>
<path d="M827.1 334.5h1.8v1.8h-1.8zM812.2 331.8h1.8v1.8h-1.8zM816.1 335.5h1.8v1.8h-1.8z" fill="#ffa256"/>
<path d="M832.3 333.6h1.8v1.8h-1.8zM788.0 326.6h1.8v1.8h-1.8zM786.8 337.1h1.8v1.8h-1.8zM788.9 325.4h1.8v1.8h-1.8zM795.6 326.0h1.8v1.8h-1.8zM781.0 326.7h1.8v1.8h-1.8zM807.8 336.6h1.8v1.8h-1.8zM799.6 326.7h1.8v1.8h-1.8zM793.7 336.9h1.8v1.8h-1.8zM801.8 326.6h1.8v1.8h-1.8zM793.1 325.7h1.8v1.8h-1.8zM797.3 326.9h1.8v1.8h-1.8zM837.6 331.2h1.8v1.8h-1.8zM801.6 335.3h1.8v1.8h-1.8zM789.8 326.5h1.8v1.8h-1.8zM809.4 336.0h1.8v1.8h-1.8zM810.8 331.6h1.8v1.8h-1.8zM785.8 326.4h1.8v1.8h-1.8zM798.5 326.0h1.8v1.8h-1.8zM776.4 327.2h1.8v1.8h-1.8zM802.6 335.7h1.8v1.8h-1.8zM778.1 325.7h1.8v1.8h-1.8zM775.0 326.7h1.8v1.8h-1.8zM808.3 335.9h1.8v1.8h-1.8zM831.9 330.4h1.8v1.8h-1.8z" fill="#4df3ce"/>
<path d="M776.9 327.4h1.8v1.8h-1.8zM791.3 337.4h1.8v1.8h-1.8zM786.4 326.3h1.8v1.8h-1.8zM790.8 327.0h1.8v1.8h-1.8zM787.9 337.1h1.8v1.8h-1.8zM791.2 327.3h1.8v1.8h-1.8zM777.1 326.6h1.8v1.8h-1.8zM795.8 325.8h1.8v1.8h-1.8zM779.8 336.4h1.8v1.8h-1.8zM795.8 336.6h1.8v1.8h-1.8zM773.2 326.6h1.8v1.8h-1.8zM793.5 335.8h1.8v1.8h-1.8zM796.7 326.6h1.8v1.8h-1.8zM796.9 336.1h1.8v1.8h-1.8zM786.9 326.1h1.8v1.8h-1.8zM795.6 325.6h1.8v1.8h-1.8zM793.0 335.9h1.8v1.8h-1.8zM774.4 337.6h1.8v1.8h-1.8zM794.5 326.6h1.8v1.8h-1.8zM797.2 336.6h1.8v1.8h-1.8zM801.1 326.8h1.8v1.8h-1.8zM778.1 337.5h1.8v1.8h-1.8zM789.2 337.9h1.8v1.8h-1.8zM774.8 326.8h1.8v1.8h-1.8zM782.2 336.3h1.8v1.8h-1.8zM780.7 325.7h1.8v1.8h-1.8zM779.4 337.5h1.8v1.8h-1.8zM808.7 336.3h1.8v1.8h-1.8zM822.8 331.6h1.8v1.8h-1.8zM806.3 335.9h1.8v1.8h-1.8zM831.6 329.8h1.8v1.8h-1.8zM804.3 337.0h1.8v1.8h-1.8z" fill="#b2f396"/>
<path d="M784.6 336.0h1.8v1.8h-1.8zM779.6 326.8h1.8v1.8h-1.8zM797.6 336.0h1.8v1.8h-1.8zM822.4 332.2h1.8v1.8h-1.8zM773.6 336.6h1.8v1.8h-1.8z" fill="#ffa256"/>
<path d="M813.8 328.0h1.8v1.8h-1.8zM818.3 329.7h1.8v1.8h-1.8zM817.4 332.1h1.8v1.8h-1.8zM810.9 328.9h1.8v1.8h-1.8z" fill="#ff4d27"/>
<path d="M835.0 333.4h1.8v1.8h-1.8zM820.3 327.9h1.8v1.8h-1.8z" fill="#4e4dfc"/>
<path d="M782.7 327.1h1.8v1.8h-1.8zM831.4 333.5h1.8v1.8h-1.8zM795.0 336.6h1.8v1.8h-1.8zM822.6 334.5h1.8v1.8h-1.8zM809.0 336.2h1.8v1.8h-1.8zM795.8 326.0h1.8v1.8h-1.8zM837.4 331.2h1.8v1.8h-1.8zM826.6 329.1h1.8v1.8h-1.8z" fill="#4df3ce"/>
<path d="M788.6 335.1h1.8v1.8h-1.8zM795.4 335.9h1.8v1.8h-1.8zM792.8 334.2h1.8v1.8h-1.8zM804.0 334.0h1.8v1.8h-1.8zM773.5 340.8h1.8v1.8h-1.8zM781.9 342.1h1.8v1.8h-1.8zM781.1 344.9h1.8v1.8h-1.8zM800.7 325.3h1.8v1.8h-1.8zM777.6 325.7h1.8v1.8h-1.8zM804.9 327.3h1.8v1.8h-1.8zM773.9 326.6h1.8v1.8h-1.8zM787.8 335.9h1.8v1.8h-1.8zM797.4 327.1h1.8v1.8h-1.8zM802.0 335.3h1.8v1.8h-1.8zM802.0 325.7h1.8v1.8h-1.8zM781.9 327.1h1.8v1.8h-1.8zM784.6 326.5h1.8v1.8h-1.8zM809.5 335.4h1.8v1.8h-1.8zM814.5 330.7h1.8v1.8h-1.8zM788.3 327.0h1.8v1.8h-1.8zM798.3 326.3h1.8v1.8h-1.8zM794.2 325.7h1.8v1.8h-1.8zM772.3 337.5h1.8v1.8h-1.8zM783.6 337.0h1.8v1.8h-1.8zM804.9 336.7h1.8v1.8h-1.8zM803.6 335.3h1.8v1.8h-1.8zM802.0 326.4h1.8v1.8h-1.8zM788.7 326.4h1.8v1.8h-1.8zM781.0 336.4h1.8v1.8h-1.8zM800.3 326.5h1.8v1.8h-1.8zM788.8 326.9h1.8v1.8h-1.8zM804.8 326.4h1.8v1.8h-1.8zM824.4 332.0h1.8v1.8h-1.8z" fill="#b2f396"/>
<path d="M836.1 333.3h1.8v1.8h-1.8zM794.8 336.9h1.8v1.8h-1.8zM800.8 336.4h1.8v1.8h-1.8zM788.3 326.7h1.8v1.8h-1.8zM802.0 336.1h1.8v1.8h-1.8zM811.7 335.5h1.8v1.8h-1.8zM787.6 326.7h1.8v1.8h-1.8zM786.0 326.5h1.8v1.8h-1.8zM798.6 335.9h1.8v1.8h-1.8zM820.7 335.4h1.8v1.8h-1.8zM782.3 326.0h1.8v1.8h-1.8zM776.5 327.4h1.8v1.8h-1.8zM814.6 329.9h1.8v1.8h-1.8zM796.5 326.4h1.8v1.8h-1.8zM791.3 326.4h1.8v1.8h-1.8zM777.0 337.5h1.8v1.8h-1.8zM791.8 337.0h1.8v1.8h-1.8zM836.9 332.4h1.8v1.8h-1.8zM772.3 337.7h1.8v1.8h-1.8zM806.9 327.4h1.8v1.8h-1.8zM784.6 338.0h1.8v1.8h-1.8zM783.0 337.9h1.8v1.8h-1.8z" fill="#ffa256"/>
<path d="M823.4 335.2h1.8v1.8h-1.8zM817.7 329.9h1.8v1.8h-1.8zM823.3 329.5h1.8v1.8h-1.8zM813.8 332.4h1.8v1.8h-1.8zM818.3 331.5h1.8v1.8h-1.8zM823.0 335.0h1.8v1.8h-1.8zM812.7 331.4h1.8v1.8h-1.8z" fill="#ff4d27"/>
<path d="M811.5 328.0h1.8v1.8h-1.8z" fill="#4df3ce"/>
<path d="M790.0 326.8h1.8v1.8h-1.8zM795.2 326.2h1.8v1.8h-1.8zM821.9 333.5h1.8v1.8h-1.8zM775.0 337.4h1.8v1.8h-1.8z" fill="#b2f396"/>
<path d="M775.8 337.1h1.8v1.8h-1.8zM785.4 337.1h1.8v1.8h-1.8zM794.7 336.8h1.8v1.8h-1.8zM786.5 334.6h1.8v1.8h-1.8zM785.5 335.3h1.8v1.8h-1.8zM794.9 334.0h1.8v1.8h-1.8zM791.7 334.3h1.8v1.8h-1.8zM785.2 335.6h1.8v1.8h-1.8zM801.6 333.9h1.8v1.8h-1.8zM795.7 334.1h1.8v1.8h-1.8zM802.3 335.3h1.8v1.8h-1.8zM782.1 336.5h1.8v1.8h-1.8zM775.8 336.6h1.8v1.8h-1.8zM799.5 337.3h1.8v1.8h-1.8zM815.2 330.5h1.8v1.8h-1.8zM797.2 327.2h1.8v1.8h-1.8zM793.3 337.7h1.8v1.8h-1.8zM806.8 336.5h1.8v1.8h-1.8zM817.8 328.6h1.8v1.8h-1.8zM804.0 335.7h1.8v1.8h-1.8zM776.5 326.1h1.8v1.8h-1.8zM813.9 333.7h1.8v1.8h-1.8zM778.4 336.2h1.8v1.8h-1.8zM793.7 337.4h1.8v1.8h-1.8zM810.7 336.4h1.8v1.8h-1.8zM785.2 336.9h1.8v1.8h-1.8zM829.1 334.1h1.8v1.8h-1.8zM794.5 337.2h1.8v1.8h-1.8zM799.8 335.4h1.8v1.8h-1.8zM773.6 336.6h1.8v1.8h-1.8z" fill="#ffa256"/>
<path d="M815.8 332.7h1.8v1.8h-1.8zM830.6 333.0h1.8v1.8h-1.8zM772.2 333.2h1.8v1.8h-1.8zM821.4 330.5h1.8v1.8h-1.8zM782.3 335.9h1.8v1.8h-1.8zM816.6 331.2h1.8v1.8h-1.8zM815.8 333.6h1.8v1.8h-1.8zM807.0 334.6h1.8v1.8h-1.8zM790.1 336.2h1.8v1.8h-1.8zM808.8 329.0h1.8v1.8h-1.8zM771.3 331.5h1.8v1.8h-1.8zM802.6 335.4h1.8v1.8h-1.8zM772.7 334.2h1.8v1.8h-1.8zM809.0 328.2h1.8v1.8h-1.8zM799.6 327.9h1.8v1.8h-1.8zM828.2 334.4h1.8v1.8h-1.8zM809.7 329.6h1.8v1.8h-1.8zM789.9 336.5h1.8v1.8h-1.8zM832.1 334.5h1.8v1.8h-1.8zM818.9 332.3h1.8v1.8h-1.8zM796.2 336.2h1.8v1.8h-1.8zM828.7 330.6h1.8v1.8h-1.8zM785.1 336.0h1.8v1.8h-1.8zM786.2 327.1h1.8v1.8h-1.8zM794.7 335.8h1.8v1.8h-1.8zM794.5 327.3h1.8v1.8h-1.8zM811.1 332.2h1.8v1.8h-1.8zM786.6 327.7h1.8v1.8h-1.8zM782.3 336.4h1.8v1.8h-1.8zM812.4 332.3h1.8v1.8h-1.8zM800.8 327.9h1.8v1.8h-1.8zM772.3 330.4h1.8v1.8h-1.8zM821.2 327.9h1.8v1.8h-1.8zM772.7 334.5h1.8v1.8h-1.8zM786.8 327.5h1.8v1.8h-1.8z" fill="#ff4d27"/>
<path d="M771.8 333.0 L772.8 329.9 L776.0 328.1 L782.2 327.4 L800.0 327.6 L811.6 328.8 L812.1 336.1 L802.1 337.2 L789.6 338.2 L776.0 337.7 L772.3 335.6 Z" fill="#ff4d27"/>
<path d="M834.6 331.6h1.8v1.8h-1.8z" fill="#4df3ce"/>
<path d="M779.2 336.3h1.8v1.8h-1.8z" fill="#b2f396"/>
<path d="M773.0 327.4h1.8v1.8h-1.8zM799.6 326.7h1.8v1.8h-1.8zM802.2 327.4h1.8v1.8h-1.8zM820.6 332.8h1.8v1.8h-1.8zM789.7 337.3h1.8v1.8h-1.8zM803.0 336.9h1.8v1.8h-1.8z" fill="#ffa256"/>
<path d="M799.0 327.1h1.8v1.8h-1.8zM783.5 327.6h1.8v1.8h-1.8zM789.6 336.6h1.8v1.8h-1.8zM777.8 327.7h1.8v1.8h-1.8zM778.5 336.0h1.8v1.8h-1.8zM820.8 333.9h1.8v1.8h-1.8zM806.3 328.1h1.8v1.8h-1.8zM778.5 335.9h1.8v1.8h-1.8zM796.4 335.4h1.8v1.8h-1.8zM813.0 335.0h1.8v1.8h-1.8zM772.9 329.0h1.8v1.8h-1.8zM784.9 327.2h1.8v1.8h-1.8zM796.8 328.0h1.8v1.8h-1.8zM809.7 334.5h1.8v1.8h-1.8zM791.4 327.7h1.8v1.8h-1.8zM774.5 328.8h1.8v1.8h-1.8zM782.6 336.2h1.8v1.8h-1.8zM806.6 334.8h1.8v1.8h-1.8zM781.5 326.9h1.8v1.8h-1.8zM784.9 336.1h1.8v1.8h-1.8zM783.9 328.2h1.8v1.8h-1.8zM788.2 327.9h1.8v1.8h-1.8zM788.4 336.3h1.8v1.8h-1.8zM779.8 335.6h1.8v1.8h-1.8zM771.2 331.3h1.8v1.8h-1.8zM772.2 333.5h1.8v1.8h-1.8zM782.0 336.5h1.8v1.8h-1.8zM789.5 327.3h1.8v1.8h-1.8zM781.4 335.9h1.8v1.8h-1.8zM773.3 334.4h1.8v1.8h-1.8zM777.0 327.8h1.8v1.8h-1.8zM780.0 335.7h1.8v1.8h-1.8zM808.9 328.7h1.8v1.8h-1.8zM810.2 329.0h1.8v1.8h-1.8zM789.7 327.1h1.8v1.8h-1.8zM803.5 327.8h1.8v1.8h-1.8zM781.9 327.4h1.8v1.8h-1.8zM809.1 331.0h1.8v1.8h-1.8zM793.0 327.6h1.8v1.8h-1.8zM793.2 336.2h1.8v1.8h-1.8zM805.1 334.4h1.8v1.8h-1.8zM778.3 336.0h1.8v1.8h-1.8zM810.0 329.7h1.8v1.8h-1.8zM781.8 327.6h1.8v1.8h-1.8zM809.4 331.9h1.8v1.8h-1.8zM785.3 327.5h1.8v1.8h-1.8zM797.1 327.6h1.8v1.8h-1.8zM792.3 335.9h1.8v1.8h-1.8zM802.8 327.9h1.8v1.8h-1.8zM810.3 333.8h1.8v1.8h-1.8zM779.0 335.9h1.8v1.8h-1.8zM773.0 338.1h1.8v1.8h-1.8zM779.0 338.9h1.8v1.8h-1.8zM774.6 338.5h1.8v1.8h-1.8zM771.8 331.6h1.8v1.8h-1.8zM803.0 335.2h1.8v1.8h-1.8zM785.7 327.3h1.8v1.8h-1.8zM795.0 336.2h1.8v1.8h-1.8zM796.3 327.9h1.8v1.8h-1.8zM802.5 335.4h1.8v1.8h-1.8zM802.6 334.5h1.8v1.8h-1.8z" fill="#ff4d27"/>
<path d="M822.7 327.9h1.8v1.8h-1.8zM826.4 328.4h1.8v1.8h-1.8zM831.1 327.2h1.8v1.8h-1.8zM834.2 328.4h1.8v1.8h-1.8z" fill="#7216ff"/>
<path d="M775.5 337.5h1.8v1.8h-1.8zM831.7 329.1h1.8v1.8h-1.8zM789.8 327.1h1.8v1.8h-1.8zM779.5 337.6h1.8v1.8h-1.8zM806.1 326.7h1.8v1.8h-1.8zM797.2 326.0h1.8v1.8h-1.8zM772.8 337.1h1.8v1.8h-1.8z" fill="#ffa256"/>
<path d="M772.3 332.5h1.8v1.8h-1.8zM771.6 330.7h1.8v1.8h-1.8zM788.7 327.2h1.8v1.8h-1.8zM788.8 326.9h1.8v1.8h-1.8zM803.3 328.4h1.8v1.8h-1.8zM783.9 328.4h1.8v1.8h-1.8zM808.5 334.9h1.8v1.8h-1.8zM803.9 327.7h1.8v1.8h-1.8zM775.5 335.9h1.8v1.8h-1.8zM772.4 329.9h1.8v1.8h-1.8zM783.8 336.2h1.8v1.8h-1.8zM787.7 336.1h1.8v1.8h-1.8zM773.4 329.0h1.8v1.8h-1.8zM784.2 336.3h1.8v1.8h-1.8zM787.5 327.9h1.8v1.8h-1.8zM810.4 333.1h1.8v1.8h-1.8zM792.4 335.8h1.8v1.8h-1.8zM798.2 327.4h1.8v1.8h-1.8zM795.5 335.7h1.8v1.8h-1.8zM788.0 327.3h1.8v1.8h-1.8zM774.6 335.6h1.8v1.8h-1.8zM833.5 331.8h1.8v1.8h-1.8zM797.9 327.9h1.8v1.8h-1.8zM809.1 328.7h1.8v1.8h-1.8zM801.3 335.5h1.8v1.8h-1.8zM794.8 327.6h1.8v1.8h-1.8zM783.8 336.3h1.8v1.8h-1.8zM803.4 327.8h1.8v1.8h-1.8zM809.6 332.2h1.8v1.8h-1.8zM798.9 327.8h1.8v1.8h-1.8zM771.7 332.4h1.8v1.8h-1.8zM791.9 336.1h1.8v1.8h-1.8zM790.4 337.3h1.8v1.8h-1.8zM787.8 327.4h1.8v1.8h-1.8zM786.0 327.1h1.8v1.8h-1.8zM807.8 335.0h1.8v1.8h-1.8zM801.2 335.1h1.8v1.8h-1.8zM802.6 335.5h1.8v1.8h-1.8zM778.2 327.5h1.8v1.8h-1.8zM772.4 332.0h1.8v1.8h-1.8zM804.1 327.3h1.8v1.8h-1.8zM809.5 328.3h1.8v1.8h-1.8zM780.2 326.8h1.8v1.8h-1.8zM810.5 332.9h1.8v1.8h-1.8zM793.3 336.5h1.8v1.8h-1.8zM800.9 326.9h1.8v1.8h-1.8zM789.7 335.8h1.8v1.8h-1.8zM782.1 335.8h1.8v1.8h-1.8zM799.4 335.7h1.8v1.8h-1.8zM806.5 335.0h1.8v1.8h-1.8zM774.6 329.1h1.8v1.8h-1.8zM776.2 336.5h1.8v1.8h-1.8zM803.1 327.6h1.8v1.8h-1.8zM793.1 327.1h1.8v1.8h-1.8zM807.4 328.6h1.8v1.8h-1.8zM804.2 335.5h1.8v1.8h-1.8zM780.1 336.2h1.8v1.8h-1.8zM794.6 335.7h1.8v1.8h-1.8z" fill="#ff4d27"/>
<path d="M818.7 333.1h1.8v1.8h-1.8zM811.1 333.0h1.8v1.8h-1.8zM837.0 331.2h1.8v1.8h-1.8z" fill="#b2f396"/>
<path d="M837.0 329.8h1.8v1.8h-1.8zM817.6 335.3h1.8v1.8h-1.8zM796.1 326.4h1.8v1.8h-1.8zM814.9 330.3h1.8v1.8h-1.8zM792.6 337.8h1.8v1.8h-1.8zM787.2 336.1h1.8v1.8h-1.8zM796.2 327.1h1.8v1.8h-1.8zM782.8 337.4h1.8v1.8h-1.8zM825.7 328.9h1.8v1.8h-1.8zM835.1 329.3h1.8v1.8h-1.8zM818.3 333.6h1.8v1.8h-1.8zM814.2 328.3h1.8v1.8h-1.8zM821.9 331.4h1.8v1.8h-1.8zM815.8 332.6h1.8v1.8h-1.8z" fill="#ffa256"/>
<path d="M789.7 327.8h1.8v1.8h-1.8zM772.8 334.8h1.8v1.8h-1.8zM830.1 334.8h1.8v1.8h-1.8zM796.9 334.6h1.8v1.8h-1.8zM795.8 335.8h1.8v1.8h-1.8zM795.2 327.6h1.8v1.8h-1.8zM810.0 332.0h1.8v1.8h-1.8zM783.4 327.6h1.8v1.8h-1.8zM773.9 328.6h1.8v1.8h-1.8zM805.6 328.4h1.8v1.8h-1.8zM814.9 332.0h1.8v1.8h-1.8zM797.0 335.4h1.8v1.8h-1.8zM794.5 327.4h1.8v1.8h-1.8zM780.7 327.7h1.8v1.8h-1.8zM789.0 336.6h1.8v1.8h-1.8zM776.1 328.4h1.8v1.8h-1.8zM819.7 335.6h1.8v1.8h-1.8zM775.9 327.8h1.8v1.8h-1.8zM802.1 335.2h1.8v1.8h-1.8zM795.9 328.2h1.8v1.8h-1.8zM784.4 327.0h1.8v1.8h-1.8zM791.5 327.6h1.8v1.8h-1.8zM790.9 327.6h1.8v1.8h-1.8zM788.5 327.9h1.8v1.8h-1.8zM773.2 330.1h1.8v1.8h-1.8zM790.9 336.9h1.8v1.8h-1.8zM802.2 335.7h1.8v1.8h-1.8zM790.2 336.3h1.8v1.8h-1.8zM773.3 329.3h1.8v1.8h-1.8zM807.2 334.7h1.8v1.8h-1.8zM802.4 335.4h1.8v1.8h-1.8zM802.2 328.0h1.8v1.8h-1.8zM771.9 332.8h1.8v1.8h-1.8zM805.5 328.4h1.8v1.8h-1.8zM776.9 328.1h1.8v1.8h-1.8zM827.5 328.6h1.8v1.8h-1.8zM785.9 327.0h1.8v1.8h-1.8zM811.4 331.2h1.8v1.8h-1.8zM826.4 334.5h1.8v1.8h-1.8zM833.0 330.6h1.8v1.8h-1.8zM814.4 335.2h1.8v1.8h-1.8zM827.0 335.2h1.8v1.8h-1.8zM825.2 332.0h1.8v1.8h-1.8zM814.5 332.0h1.8v1.8h-1.8zM835.8 333.5h1.8v1.8h-1.8zM825.6 329.3h1.8v1.8h-1.8zM814.3 334.8h1.8v1.8h-1.8zM824.2 334.2h1.8v1.8h-1.8zM813.7 329.6h1.8v1.8h-1.8zM821.8 329.6h1.8v1.8h-1.8zM812.9 328.8h1.8v1.8h-1.8zM812.2 332.4h1.8v1.8h-1.8zM811.5 329.8h1.8v1.8h-1.8z" fill="#ff4d27"/>
<path d="M795.3 335.8h1.4v1.4h-1.4zM786.4 335.7h1.4v1.4h-1.4zM787.1 336.1h1.4v1.4h-1.4zM795.4 335.2h1.4v1.4h-1.4zM794.4 335.6h1.4v1.4h-1.4zM788.8 335.7h1.4v1.4h-1.4zM802.1 335.6h1.4v1.4h-1.4zM788.9 335.0h1.4v1.4h-1.4zM804.8 335.2h1.4v1.4h-1.4zM798.4 334.6h1.4v1.4h-1.4zM792.5 334.9h1.4v1.4h-1.4zM794.2 335.5h1.4v1.4h-1.4z" fill="#ffa256"/>
</g>
<path d="M242 157.5V54H862V653H752.5" fill="none" stroke="#000" stroke-width="2" stroke-linejoin="miter"/>
<path d="M241 157.5H863" stroke="#000" stroke-width="3" fill="none"/>
<path d="M752.5 53V654" stroke="#000" stroke-width="3" fill="none"/>
<g font-family="DejaVu Sans, Liberation Sans, sans-serif" fill="#000">
<text x="300.2" y="46.4" font-size="22.2" textLength="503.4" lengthAdjust="spacing">SAETTA Lightning Mapping Array - 14/06/23</text>
<text x="219.4" y="51.7" font-size="10">15</text>
<text x="219.4" y="86.7" font-size="10">10</text>
<text x="219.4" y="121.7" font-size="10">5</text>
<text x="219.4" y="156.7" font-size="10">0</text>
<text x="186.0" y="104.7" font-size="11.7">Km</text>
<text x="233.6" y="210.9" font-size="10" text-anchor="end">44.5°N</text>
<text x="233.6" y="261.6" font-size="10" text-anchor="end">44°N</text>
<text x="233.6" y="312.0" font-size="10" text-anchor="end">43.5°N</text>
<text x="233.6" y="362.0" font-size="10" text-anchor="end">43°N</text>
<text x="233.6" y="411.9" font-size="10" text-anchor="end">42.5°N</text>
<text x="233.6" y="461.0" font-size="10" text-anchor="end">42°N</text>
<text x="233.6" y="510.0" font-size="10" text-anchor="end">41.5°N</text>
<text x="233.6" y="558.8" font-size="10" text-anchor="end">41°N</text>
<text x="233.6" y="607.0" font-size="10" text-anchor="end">40.5°N</text>
<text x="233.6" y="655.2" font-size="10" text-anchor="end">40°N</text>
<text x="242.0" y="666.6" font-size="10" text-anchor="middle">5°E</text>
<text x="278.5" y="666.6" font-size="10" text-anchor="middle">5.5°E</text>
<text x="315.0" y="666.6" font-size="10" text-anchor="middle">6°E</text>
<text x="351.5" y="666.6" font-size="10" text-anchor="middle">6.5°E</text>
<text x="388.0" y="666.6" font-size="10" text-anchor="middle">7°E</text>
<text x="424.5" y="666.6" font-size="10" text-anchor="middle">7.5°E</text>
<text x="461.0" y="666.6" font-size="10" text-anchor="middle">8°E</text>
<text x="497.5" y="666.6" font-size="10" text-anchor="middle">8.5°E</text>
<text x="534.0" y="666.6" font-size="10" text-anchor="middle">9°E</text>
<text x="570.5" y="666.6" font-size="10" text-anchor="middle">9.5°E</text>
<text x="607.0" y="666.6" font-size="10" text-anchor="middle">10°E</text>
<text x="643.5" y="666.6" font-size="10" text-anchor="middle">10.5°E</text>
<text x="680.0" y="666.6" font-size="10" text-anchor="middle">11°E</text>
<text x="716.5" y="666.6" font-size="10" text-anchor="middle">11.5°E</text>
<text x="752.7" y="666.4" font-size="10">0</text>
<text x="788.7" y="666.4" font-size="10">5</text>
<text x="825.0" y="666.4" font-size="10">10</text>
<text x="862.0" y="666.4" font-size="10">15</text>
<text x="807.4" y="675.8" font-size="11.7">Km</text>
<text y="84.2" font-size="10"><tspan x="769.3">6</tspan><tspan x="782.6">:</tspan><tspan x="799.0" letter-spacing="0.4">29948</tspan></text>
<text y="94.3" font-size="10" fill="#ff0000"><tspan x="769.3">7</tspan><tspan x="782.6">:</tspan><tspan x="799.0" letter-spacing="0.4">11464</tspan></text>
<text y="105.0" font-size="10"><tspan x="769.3">8</tspan><tspan x="782.6">:</tspan><tspan x="808.9" letter-spacing="0.4">93</tspan></text>
<text y="115.0" font-size="10"><tspan x="769.3">9</tspan><tspan x="782.6">:</tspan><tspan x="808.9" letter-spacing="0.4">12</tspan></text>
<text y="125.4" font-size="10"><tspan x="766.4">10</tspan><tspan x="786.0">:</tspan><tspan x="815.6" letter-spacing="0.4">0</tspan></text>
<text y="135.6" font-size="10"><tspan x="766.4">11</tspan><tspan x="786.0">:</tspan><tspan x="815.6" letter-spacing="0.4">0</tspan></text>
<text y="145.8" font-size="10"><tspan x="766.4">12</tspan><tspan x="786.0">:</tspan><tspan x="815.6" letter-spacing="0.4">0</tspan></text>
</g>
<rect x="158.5" y="690.3" width="787" height="38" fill="url(#rainbow)" stroke="#000" stroke-width="1"/>
<path d="M158.5 728.3V732.3 M315.9 728.3V732.3 M473.3 728.3V732.3 M630.7 728.3V732.3 M788.1 728.3V732.3 M945.5 728.3V732.3" stroke="#000" stroke-width="0.9" fill="none"/>
<g font-family="DejaVu Sans, Liberation Sans, sans-serif" fill="#000">
<text x="158.5" y="742.6" font-size="10" text-anchor="middle">0</text>
<text x="315.9" y="742.6" font-size="10" text-anchor="middle">2</text>
<text x="473.3" y="742.6" font-size="10" text-anchor="middle">4</text>
<text x="630.7" y="742.6" font-size="10" text-anchor="middle">6</text>
<text x="788.1" y="742.6" font-size="10" text-anchor="middle">8</text>
<text x="945.5" y="742.6" font-size="10" text-anchor="middle">10</text>
<text x="433.2" y="718.2" font-size="18.3" textLength="249.2" lengthAdjust="spacing">from 01:00:00 to 01:09:59</text>
</g>
</svg>
</body></html>
